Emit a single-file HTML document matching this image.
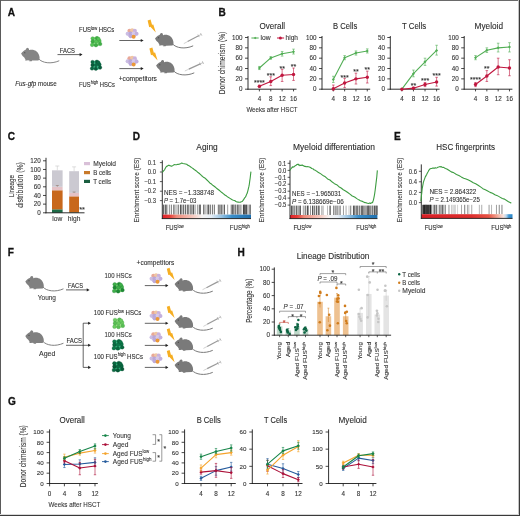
<!DOCTYPE html>
<html><head><meta charset="utf-8"><style>
html,body{margin:0;padding:0;background:#fff;width:520px;height:516px;overflow:hidden}
svg{display:block;will-change:transform}
text{font-family:"Liberation Sans",sans-serif}
</style></head><body>
<svg width="520" height="516" viewBox="0 0 520 516">
<rect x="0" y="0" width="520" height="516" fill="#fff"/>
<text transform="translate(7.80 16.20) scale(0.900 1)" font-size="11.2" fill="#111" font-weight="bold" stroke="#111" stroke-width="0.3">A</text>
<g transform="translate(21.10,53.50) scale(1.000)">
<path d="M0,0 C0.9,-1.1 1.8,-2.2 2.75,-2.75 C3.5,-3.2 4.3,-3.6 4.8,-3.9 C5.0,-5.0 5.9,-5.8 6.75,-5.6 C7.6,-5.4 8.1,-4.6 7.9,-3.5 L8.3,-3.4 C10.5,-4.2 13.2,-3.8 15.2,-2.3 C17.2,-0.8 18.5,2.0 18.5,4.3 C18.5,5.8 18.0,6.6 17.2,6.9 L11.0,7.1 L10.6,7.7 L8.0,7.7 L8.6,6.9 L6.6,6.7 L6.0,6.9 L4.0,6.9 L4.4,5.9 C3.9,5.2 3.5,4.6 3.2,4.0 C2.2,3.3 0.8,2.0 0,0 Z" fill="#858585"/>
<path d="M17.6,5.4 C21,9.6 30,10.8 37.8,7.4" fill="none" stroke="#858585" stroke-width="1.0" stroke-linecap="round"/>
<circle cx="3.7" cy="-0.8" r="0.5" fill="#333"/>
</g>
<text transform="translate(59.80 53.20) scale(0.808 1)" font-size="7.2" fill="#2b2b2b" stroke="#2b2b2b" stroke-width="0.1">FACS</text>
<line x1="57.50" y1="54.60" x2="80.60" y2="54.60" stroke="#222" stroke-width="0.7"/>
<path d="M82.50,54.60 L79.64,53.06 L79.64,56.14 Z" fill="#222"/>
<text transform="translate(15.20 86.40) scale(0.866 1)" font-size="7.2" fill="#2b2b2b" stroke="#2b2b2b" stroke-width="0.1"><tspan font-style="italic">Fus-gfp</tspan> mouse</text>
<text transform="translate(79.00 32.40) scale(0.832 1)" font-size="7.2" fill="#2b2b2b" stroke="#2b2b2b" stroke-width="0.1">FUS<tspan font-size="4.90" dy="-2.74">low</tspan><tspan dy="2.74"> HSCs</tspan></text>
<text transform="translate(79.00 86.60) scale(0.810 1)" font-size="7.2" fill="#2b2b2b" stroke="#2b2b2b" stroke-width="0.1">FUS<tspan font-size="4.90" dy="-2.74">high</tspan><tspan dy="2.74"> HSCs</tspan></text>
<circle cx="96.30" cy="41.70" r="4.83" fill="#8ee08a"/>
<circle cx="92.63" cy="38.42" r="1.79" fill="#55c455" stroke="#2f8f38" stroke-width="0.3"/>
<circle cx="96.98" cy="38.13" r="1.79" fill="#3fae45" stroke="#2f8f38" stroke-width="0.3"/>
<circle cx="99.49" cy="40.93" r="1.79" fill="#55c455" stroke="#2f8f38" stroke-width="0.3"/>
<circle cx="92.63" cy="41.51" r="1.79" fill="#3fae45" stroke="#2f8f38" stroke-width="0.3"/>
<circle cx="96.11" cy="41.51" r="1.79" fill="#55c455" stroke="#2f8f38" stroke-width="0.3"/>
<circle cx="100.17" cy="44.02" r="1.79" fill="#3fae45" stroke="#2f8f38" stroke-width="0.3"/>
<circle cx="92.14" cy="44.89" r="1.79" fill="#55c455" stroke="#2f8f38" stroke-width="0.3"/>
<circle cx="95.91" cy="45.18" r="1.79" fill="#3fae45" stroke="#2f8f38" stroke-width="0.3"/>
<circle cx="98.43" cy="38.90" r="1.79" fill="#55c455" stroke="#2f8f38" stroke-width="0.3"/>
<circle cx="96.20" cy="65.30" r="4.83" fill="#45cf98"/>
<circle cx="92.53" cy="62.02" r="1.79" fill="#0b6a45" stroke="#064a2e" stroke-width="0.3"/>
<circle cx="96.88" cy="61.73" r="1.79" fill="#0a5c3c" stroke="#064a2e" stroke-width="0.3"/>
<circle cx="99.39" cy="64.53" r="1.79" fill="#0b6a45" stroke="#064a2e" stroke-width="0.3"/>
<circle cx="92.53" cy="65.11" r="1.79" fill="#0a5c3c" stroke="#064a2e" stroke-width="0.3"/>
<circle cx="96.01" cy="65.11" r="1.79" fill="#0b6a45" stroke="#064a2e" stroke-width="0.3"/>
<circle cx="100.07" cy="67.62" r="1.79" fill="#0a5c3c" stroke="#064a2e" stroke-width="0.3"/>
<circle cx="92.04" cy="68.49" r="1.79" fill="#0b6a45" stroke="#064a2e" stroke-width="0.3"/>
<circle cx="95.81" cy="68.78" r="1.79" fill="#0a5c3c" stroke="#064a2e" stroke-width="0.3"/>
<circle cx="98.33" cy="62.50" r="1.79" fill="#0b6a45" stroke="#064a2e" stroke-width="0.3"/>
<g transform="translate(132.10,33.40) scale(0.900)">
<ellipse cx="0" cy="0.3" rx="5.6" ry="4.4" fill="#c8b8e0"/>
<circle cx="-2.90" cy="-3.00" r="2.30" fill="#e8a898"/>
<circle cx="0.10" cy="-3.40" r="2.30" fill="#f0c6a2"/>
<circle cx="3.00" cy="-2.90" r="2.30" fill="#c9b2dd"/>
<circle cx="-5.00" cy="0.30" r="2.20" fill="#cbbde3"/>
<circle cx="-1.60" cy="0.40" r="2.40" fill="#b9a7d8"/>
<circle cx="1.90" cy="0.20" r="2.40" fill="#d6c8e8"/>
<circle cx="5.00" cy="0.50" r="2.20" fill="#c2b0de"/>
<circle cx="-1.60" cy="3.30" r="2.20" fill="#bcaada"/>
<circle cx="1.70" cy="3.80" r="2.20" fill="#ea9838"/>
</g>
<line x1="119.30" y1="40.50" x2="141.70" y2="40.50" stroke="#222" stroke-width="0.7"/>
<path d="M143.60,40.50 L140.74,38.96 L140.74,42.04 Z" fill="#222"/>
<g transform="translate(132.10,61.00) scale(0.900)">
<ellipse cx="0" cy="0.3" rx="5.6" ry="4.4" fill="#c8b8e0"/>
<circle cx="-2.90" cy="-3.00" r="2.30" fill="#e8a898"/>
<circle cx="0.10" cy="-3.40" r="2.30" fill="#f0c6a2"/>
<circle cx="3.00" cy="-2.90" r="2.30" fill="#c9b2dd"/>
<circle cx="-5.00" cy="0.30" r="2.20" fill="#cbbde3"/>
<circle cx="-1.60" cy="0.40" r="2.40" fill="#b9a7d8"/>
<circle cx="1.90" cy="0.20" r="2.40" fill="#d6c8e8"/>
<circle cx="5.00" cy="0.50" r="2.20" fill="#c2b0de"/>
<circle cx="-1.60" cy="3.30" r="2.20" fill="#bcaada"/>
<circle cx="1.70" cy="3.80" r="2.20" fill="#ea9838"/>
</g>
<line x1="119.30" y1="68.60" x2="141.70" y2="68.60" stroke="#222" stroke-width="0.7"/>
<path d="M143.60,68.60 L140.74,67.06 L140.74,70.14 Z" fill="#222"/>
<path transform="translate(147.20,19.60) scale(1.050)" d="M0.4,0.9 L3.2,0 L4.6,4.9 L5.8,4.6 L8.2,12.2 L3.0,6.9 L1.9,7.2 Z" fill="#f6ae22"/>
<path transform="translate(149.00,47.60) scale(1.050)" d="M0.4,0.9 L3.2,0 L4.6,4.9 L5.8,4.6 L8.2,12.2 L3.0,6.9 L1.9,7.2 Z" fill="#f6ae22"/>
<g transform="translate(155.00,38.60) scale(1.000)">
<path d="M0,0 C0.9,-1.1 1.8,-2.2 2.75,-2.75 C3.5,-3.2 4.3,-3.6 4.8,-3.9 C5.0,-5.0 5.9,-5.8 6.75,-5.6 C7.6,-5.4 8.1,-4.6 7.9,-3.5 L8.3,-3.4 C10.5,-4.2 13.2,-3.8 15.2,-2.3 C17.2,-0.8 18.5,2.0 18.5,4.3 C18.5,5.8 18.0,6.6 17.2,6.9 L11.0,7.1 L10.6,7.7 L8.0,7.7 L8.6,6.9 L6.6,6.7 L6.0,6.9 L4.0,6.9 L4.4,5.9 C3.9,5.2 3.5,4.6 3.2,4.0 C2.2,3.3 0.8,2.0 0,0 Z" fill="#7a7a7a"/>
<path d="M17.6,5.4 C21,9.6 30,10.8 37.8,7.4" fill="none" stroke="#7a7a7a" stroke-width="1.0" stroke-linecap="round"/>
<circle cx="3.7" cy="-0.8" r="0.5" fill="#333"/>
</g>
<g transform="translate(156.10,65.60) scale(1.000)">
<path d="M0,0 C0.9,-1.1 1.8,-2.2 2.75,-2.75 C3.5,-3.2 4.3,-3.6 4.8,-3.9 C5.0,-5.0 5.9,-5.8 6.75,-5.6 C7.6,-5.4 8.1,-4.6 7.9,-3.5 L8.3,-3.4 C10.5,-4.2 13.2,-3.8 15.2,-2.3 C17.2,-0.8 18.5,2.0 18.5,4.3 C18.5,5.8 18.0,6.6 17.2,6.9 L11.0,7.1 L10.6,7.7 L8.0,7.7 L8.6,6.9 L6.6,6.7 L6.0,6.9 L4.0,6.9 L4.4,5.9 C3.9,5.2 3.5,4.6 3.2,4.0 C2.2,3.3 0.8,2.0 0,0 Z" fill="#7a7a7a"/>
<path d="M17.6,5.4 C21,9.6 30,10.8 37.8,7.4" fill="none" stroke="#7a7a7a" stroke-width="1.0" stroke-linecap="round"/>
<circle cx="3.7" cy="-0.8" r="0.5" fill="#333"/>
</g>
<line x1="183.80" y1="43.60" x2="187.63" y2="41.58" stroke="#9a9a9a" stroke-width="0.45"/>
<line x1="187.63" y1="41.58" x2="198.59" y2="35.78" stroke="#9a9a9a" stroke-width="1.2"/>
<line x1="198.59" y1="35.78" x2="201.20" y2="34.40" stroke="#9a9a9a" stroke-width="0.6"/>
<line x1="201.90" y1="35.73" x2="200.50" y2="33.07" stroke="#9a9a9a" stroke-width="0.6"/>
<line x1="199.29" y1="37.11" x2="197.89" y2="34.45" stroke="#9a9a9a" stroke-width="0.6"/>
<line x1="184.80" y1="71.00" x2="188.80" y2="69.15" stroke="#9a9a9a" stroke-width="0.45"/>
<line x1="188.80" y1="69.15" x2="200.27" y2="63.86" stroke="#9a9a9a" stroke-width="1.2"/>
<line x1="200.27" y1="63.86" x2="203.00" y2="62.60" stroke="#9a9a9a" stroke-width="0.6"/>
<line x1="203.63" y1="63.96" x2="202.37" y2="61.24" stroke="#9a9a9a" stroke-width="0.6"/>
<line x1="200.90" y1="65.22" x2="199.64" y2="62.50" stroke="#9a9a9a" stroke-width="0.6"/>
<text transform="translate(118.70 81.20) scale(0.925 1)" font-size="7.2" fill="#2b2b2b" stroke="#2b2b2b" stroke-width="0.1">+competitors</text>
<text transform="translate(218.60 16.20) scale(0.900 1)" font-size="11.2" fill="#111" font-weight="bold" stroke="#111" stroke-width="0.3">B</text>
<text transform="translate(225.40 63.00) rotate(-90) scale(0.794 1)" font-size="8.4" fill="#333" text-anchor="middle" stroke="#333" stroke-width="0.1">Donor chimerism (%)</text>
<text transform="translate(272.30 29.00) scale(0.958 1)" font-size="8.4" fill="#2a2a2a" text-anchor="middle" stroke="#2a2a2a" stroke-width="0.1">Overall</text>
<line x1="248.00" y1="36.00" x2="248.00" y2="89.65" stroke="#1a1a1a" stroke-width="0.9"/>
<line x1="245.00" y1="89.20" x2="248.00" y2="89.20" stroke="#1a1a1a" stroke-width="0.8"/>
<text transform="translate(242.60 91.40)" font-size="6.3" fill="#333" text-anchor="end" stroke="#333" stroke-width="0.1">0</text>
<line x1="245.00" y1="78.86" x2="248.00" y2="78.86" stroke="#1a1a1a" stroke-width="0.8"/>
<text transform="translate(242.60 81.06)" font-size="6.3" fill="#333" text-anchor="end" stroke="#333" stroke-width="0.1">20</text>
<line x1="245.00" y1="68.52" x2="248.00" y2="68.52" stroke="#1a1a1a" stroke-width="0.8"/>
<text transform="translate(242.60 70.72)" font-size="6.3" fill="#333" text-anchor="end" stroke="#333" stroke-width="0.1">40</text>
<line x1="245.00" y1="58.18" x2="248.00" y2="58.18" stroke="#1a1a1a" stroke-width="0.8"/>
<text transform="translate(242.60 60.38)" font-size="6.3" fill="#333" text-anchor="end" stroke="#333" stroke-width="0.1">60</text>
<line x1="245.00" y1="47.84" x2="248.00" y2="47.84" stroke="#1a1a1a" stroke-width="0.8"/>
<text transform="translate(242.60 50.04)" font-size="6.3" fill="#333" text-anchor="end" stroke="#333" stroke-width="0.1">80</text>
<line x1="245.00" y1="37.50" x2="248.00" y2="37.50" stroke="#1a1a1a" stroke-width="0.8"/>
<text transform="translate(242.60 39.70)" font-size="6.3" fill="#333" text-anchor="end" stroke="#333" stroke-width="0.1">100</text>
<line x1="247.55" y1="89.20" x2="296.50" y2="89.20" stroke="#1a1a1a" stroke-width="0.9"/>
<line x1="259.38" y1="89.20" x2="259.38" y2="91.40" stroke="#1a1a1a" stroke-width="0.8"/>
<text transform="translate(259.38 100.60)" font-size="6.3" fill="#333" text-anchor="middle" stroke="#333" stroke-width="0.1">4</text>
<line x1="270.76" y1="89.20" x2="270.76" y2="91.40" stroke="#1a1a1a" stroke-width="0.8"/>
<text transform="translate(270.76 100.60)" font-size="6.3" fill="#333" text-anchor="middle" stroke="#333" stroke-width="0.1">8</text>
<line x1="282.14" y1="89.20" x2="282.14" y2="91.40" stroke="#1a1a1a" stroke-width="0.8"/>
<text transform="translate(282.14 100.60)" font-size="6.3" fill="#333" text-anchor="middle" stroke="#333" stroke-width="0.1">12</text>
<line x1="293.52" y1="89.20" x2="293.52" y2="91.40" stroke="#1a1a1a" stroke-width="0.8"/>
<text transform="translate(293.52 100.60)" font-size="6.3" fill="#333" text-anchor="middle" stroke="#333" stroke-width="0.1">16</text>
<polyline points="259.38,68.00 270.76,57.92 282.14,53.79 293.52,51.72" fill="none" stroke="#52ae55" stroke-width="1.1" stroke-linejoin="round"/>
<line x1="259.38" y1="69.55" x2="259.38" y2="66.45" stroke="#52ae55" stroke-width="0.6"/>
<line x1="258.08" y1="69.55" x2="260.68" y2="69.55" stroke="#52ae55" stroke-width="0.6"/>
<line x1="258.08" y1="66.45" x2="260.68" y2="66.45" stroke="#52ae55" stroke-width="0.6"/>
<line x1="270.76" y1="59.21" x2="270.76" y2="56.63" stroke="#52ae55" stroke-width="0.6"/>
<line x1="269.46" y1="59.21" x2="272.06" y2="59.21" stroke="#52ae55" stroke-width="0.6"/>
<line x1="269.46" y1="56.63" x2="272.06" y2="56.63" stroke="#52ae55" stroke-width="0.6"/>
<line x1="282.14" y1="56.11" x2="282.14" y2="51.46" stroke="#52ae55" stroke-width="0.6"/>
<line x1="280.84" y1="56.11" x2="283.44" y2="56.11" stroke="#52ae55" stroke-width="0.6"/>
<line x1="280.84" y1="51.46" x2="283.44" y2="51.46" stroke="#52ae55" stroke-width="0.6"/>
<line x1="293.52" y1="54.04" x2="293.52" y2="49.13" stroke="#52ae55" stroke-width="0.6"/>
<line x1="292.22" y1="54.04" x2="294.82" y2="54.04" stroke="#52ae55" stroke-width="0.6"/>
<line x1="292.22" y1="49.13" x2="294.82" y2="49.13" stroke="#52ae55" stroke-width="0.6"/>
<path d="M257.88,68.00 L259.38,66.50 L260.88,68.00 L259.38,69.50 Z" fill="#52ae55"/>
<path d="M269.26,57.92 L270.76,56.42 L272.26,57.92 L270.76,59.42 Z" fill="#52ae55"/>
<path d="M280.64,53.79 L282.14,52.29 L283.64,53.79 L282.14,55.29 Z" fill="#52ae55"/>
<path d="M292.02,51.72 L293.52,50.22 L295.02,51.72 L293.52,53.22 Z" fill="#52ae55"/>
<polyline points="259.38,86.36 270.76,81.45 282.14,75.24 293.52,74.47" fill="none" stroke="#c0173f" stroke-width="1.1" stroke-linejoin="round"/>
<line x1="259.38" y1="87.65" x2="259.38" y2="85.06" stroke="#c0173f" stroke-width="0.6"/>
<line x1="258.08" y1="87.65" x2="260.68" y2="87.65" stroke="#c0173f" stroke-width="0.6"/>
<line x1="258.08" y1="85.06" x2="260.68" y2="85.06" stroke="#c0173f" stroke-width="0.6"/>
<line x1="270.76" y1="85.58" x2="270.76" y2="76.79" stroke="#c0173f" stroke-width="0.6"/>
<line x1="269.46" y1="85.58" x2="272.06" y2="85.58" stroke="#c0173f" stroke-width="0.6"/>
<line x1="269.46" y1="76.79" x2="272.06" y2="76.79" stroke="#c0173f" stroke-width="0.6"/>
<line x1="282.14" y1="81.45" x2="282.14" y2="69.30" stroke="#c0173f" stroke-width="0.6"/>
<line x1="280.84" y1="81.45" x2="283.44" y2="81.45" stroke="#c0173f" stroke-width="0.6"/>
<line x1="280.84" y1="69.30" x2="283.44" y2="69.30" stroke="#c0173f" stroke-width="0.6"/>
<line x1="293.52" y1="80.41" x2="293.52" y2="68.00" stroke="#c0173f" stroke-width="0.6"/>
<line x1="292.22" y1="80.41" x2="294.82" y2="80.41" stroke="#c0173f" stroke-width="0.6"/>
<line x1="292.22" y1="68.00" x2="294.82" y2="68.00" stroke="#c0173f" stroke-width="0.6"/>
<circle cx="259.38" cy="86.36" r="1.70" fill="#c0173f"/>
<circle cx="270.76" cy="81.45" r="1.70" fill="#c0173f"/>
<circle cx="282.14" cy="75.24" r="1.70" fill="#c0173f"/>
<circle cx="293.52" cy="74.47" r="1.70" fill="#c0173f"/>
<text transform="translate(259.38 85.49) scale(0.950 1)" font-size="7.4" fill="#2a2a2a" text-anchor="middle" stroke="#2a2a2a" stroke-width="0.1">****</text>
<text transform="translate(270.76 78.09) scale(0.950 1)" font-size="7.4" fill="#2a2a2a" text-anchor="middle" stroke="#2a2a2a" stroke-width="0.1">***</text>
<text transform="translate(282.14 70.60) scale(0.950 1)" font-size="7.4" fill="#2a2a2a" text-anchor="middle" stroke="#2a2a2a" stroke-width="0.1">**</text>
<text transform="translate(293.52 69.20) scale(0.950 1)" font-size="7.4" fill="#2a2a2a" text-anchor="middle" stroke="#2a2a2a" stroke-width="0.1">**</text>
<text transform="translate(345.10 29.00) scale(0.910 1)" font-size="8.4" fill="#2a2a2a" text-anchor="middle" stroke="#2a2a2a" stroke-width="0.1">B Cells</text>
<line x1="322.00" y1="36.00" x2="322.00" y2="89.65" stroke="#1a1a1a" stroke-width="0.9"/>
<line x1="319.00" y1="89.20" x2="322.00" y2="89.20" stroke="#1a1a1a" stroke-width="0.8"/>
<text transform="translate(316.60 91.40)" font-size="6.3" fill="#333" text-anchor="end" stroke="#333" stroke-width="0.1">0</text>
<line x1="319.00" y1="78.86" x2="322.00" y2="78.86" stroke="#1a1a1a" stroke-width="0.8"/>
<text transform="translate(316.60 81.06)" font-size="6.3" fill="#333" text-anchor="end" stroke="#333" stroke-width="0.1">20</text>
<line x1="319.00" y1="68.52" x2="322.00" y2="68.52" stroke="#1a1a1a" stroke-width="0.8"/>
<text transform="translate(316.60 70.72)" font-size="6.3" fill="#333" text-anchor="end" stroke="#333" stroke-width="0.1">40</text>
<line x1="319.00" y1="58.18" x2="322.00" y2="58.18" stroke="#1a1a1a" stroke-width="0.8"/>
<text transform="translate(316.60 60.38)" font-size="6.3" fill="#333" text-anchor="end" stroke="#333" stroke-width="0.1">60</text>
<line x1="319.00" y1="47.84" x2="322.00" y2="47.84" stroke="#1a1a1a" stroke-width="0.8"/>
<text transform="translate(316.60 50.04)" font-size="6.3" fill="#333" text-anchor="end" stroke="#333" stroke-width="0.1">80</text>
<line x1="319.00" y1="37.50" x2="322.00" y2="37.50" stroke="#1a1a1a" stroke-width="0.8"/>
<text transform="translate(316.60 39.70)" font-size="6.3" fill="#333" text-anchor="end" stroke="#333" stroke-width="0.1">100</text>
<line x1="321.55" y1="89.20" x2="370.20" y2="89.20" stroke="#1a1a1a" stroke-width="0.9"/>
<line x1="333.32" y1="89.20" x2="333.32" y2="91.40" stroke="#1a1a1a" stroke-width="0.8"/>
<text transform="translate(333.32 100.60)" font-size="6.3" fill="#333" text-anchor="middle" stroke="#333" stroke-width="0.1">4</text>
<line x1="344.64" y1="89.20" x2="344.64" y2="91.40" stroke="#1a1a1a" stroke-width="0.8"/>
<text transform="translate(344.64 100.60)" font-size="6.3" fill="#333" text-anchor="middle" stroke="#333" stroke-width="0.1">8</text>
<line x1="355.96" y1="89.20" x2="355.96" y2="91.40" stroke="#1a1a1a" stroke-width="0.8"/>
<text transform="translate(355.96 100.60)" font-size="6.3" fill="#333" text-anchor="middle" stroke="#333" stroke-width="0.1">12</text>
<line x1="367.28" y1="89.20" x2="367.28" y2="91.40" stroke="#1a1a1a" stroke-width="0.8"/>
<text transform="translate(367.28 100.60)" font-size="6.3" fill="#333" text-anchor="middle" stroke="#333" stroke-width="0.1">16</text>
<polyline points="333.32,79.38 344.64,57.66 355.96,53.01 367.28,50.94" fill="none" stroke="#52ae55" stroke-width="1.1" stroke-linejoin="round"/>
<line x1="333.32" y1="82.48" x2="333.32" y2="76.28" stroke="#52ae55" stroke-width="0.6"/>
<line x1="332.02" y1="82.48" x2="334.62" y2="82.48" stroke="#52ae55" stroke-width="0.6"/>
<line x1="332.02" y1="76.28" x2="334.62" y2="76.28" stroke="#52ae55" stroke-width="0.6"/>
<line x1="344.64" y1="59.73" x2="344.64" y2="55.59" stroke="#52ae55" stroke-width="0.6"/>
<line x1="343.34" y1="59.73" x2="345.94" y2="59.73" stroke="#52ae55" stroke-width="0.6"/>
<line x1="343.34" y1="55.59" x2="345.94" y2="55.59" stroke="#52ae55" stroke-width="0.6"/>
<line x1="355.96" y1="55.08" x2="355.96" y2="50.94" stroke="#52ae55" stroke-width="0.6"/>
<line x1="354.66" y1="55.08" x2="357.26" y2="55.08" stroke="#52ae55" stroke-width="0.6"/>
<line x1="354.66" y1="50.94" x2="357.26" y2="50.94" stroke="#52ae55" stroke-width="0.6"/>
<line x1="367.28" y1="53.01" x2="367.28" y2="48.87" stroke="#52ae55" stroke-width="0.6"/>
<line x1="365.98" y1="53.01" x2="368.58" y2="53.01" stroke="#52ae55" stroke-width="0.6"/>
<line x1="365.98" y1="48.87" x2="368.58" y2="48.87" stroke="#52ae55" stroke-width="0.6"/>
<path d="M331.82,79.38 L333.32,77.88 L334.82,79.38 L333.32,80.88 Z" fill="#52ae55"/>
<path d="M343.14,57.66 L344.64,56.16 L346.14,57.66 L344.64,59.16 Z" fill="#52ae55"/>
<path d="M354.46,53.01 L355.96,51.51 L357.46,53.01 L355.96,54.51 Z" fill="#52ae55"/>
<path d="M365.78,50.94 L367.28,49.44 L368.78,50.94 L367.28,52.44 Z" fill="#52ae55"/>
<polyline points="333.32,88.68 344.64,83.00 355.96,78.86 367.28,77.31" fill="none" stroke="#c0173f" stroke-width="1.1" stroke-linejoin="round"/>
<line x1="333.32" y1="90.23" x2="333.32" y2="85.06" stroke="#c0173f" stroke-width="0.6"/>
<line x1="332.02" y1="90.23" x2="334.62" y2="90.23" stroke="#c0173f" stroke-width="0.6"/>
<line x1="332.02" y1="85.06" x2="334.62" y2="85.06" stroke="#c0173f" stroke-width="0.6"/>
<line x1="344.64" y1="87.65" x2="344.64" y2="78.34" stroke="#c0173f" stroke-width="0.6"/>
<line x1="343.34" y1="87.65" x2="345.94" y2="87.65" stroke="#c0173f" stroke-width="0.6"/>
<line x1="343.34" y1="78.34" x2="345.94" y2="78.34" stroke="#c0173f" stroke-width="0.6"/>
<line x1="355.96" y1="84.03" x2="355.96" y2="73.17" stroke="#c0173f" stroke-width="0.6"/>
<line x1="354.66" y1="84.03" x2="357.26" y2="84.03" stroke="#c0173f" stroke-width="0.6"/>
<line x1="354.66" y1="73.17" x2="357.26" y2="73.17" stroke="#c0173f" stroke-width="0.6"/>
<line x1="367.28" y1="83.00" x2="367.28" y2="71.11" stroke="#c0173f" stroke-width="0.6"/>
<line x1="365.98" y1="83.00" x2="368.58" y2="83.00" stroke="#c0173f" stroke-width="0.6"/>
<line x1="365.98" y1="71.11" x2="368.58" y2="71.11" stroke="#c0173f" stroke-width="0.6"/>
<circle cx="333.32" cy="88.68" r="1.70" fill="#c0173f"/>
<circle cx="344.64" cy="83.00" r="1.70" fill="#c0173f"/>
<circle cx="355.96" cy="78.86" r="1.70" fill="#c0173f"/>
<circle cx="367.28" cy="77.31" r="1.70" fill="#c0173f"/>
<text transform="translate(344.64 79.90) scale(0.950 1)" font-size="7.4" fill="#2a2a2a" text-anchor="middle" stroke="#2a2a2a" stroke-width="0.1">***</text>
<text transform="translate(355.96 74.01) scale(0.950 1)" font-size="7.4" fill="#2a2a2a" text-anchor="middle" stroke="#2a2a2a" stroke-width="0.1">**</text>
<text transform="translate(367.28 71.99) scale(0.950 1)" font-size="7.4" fill="#2a2a2a" text-anchor="middle" stroke="#2a2a2a" stroke-width="0.1">**</text>
<text transform="translate(414.10 29.00) scale(0.931 1)" font-size="8.4" fill="#2a2a2a" text-anchor="middle" stroke="#2a2a2a" stroke-width="0.1">T Cells</text>
<line x1="390.30" y1="36.00" x2="390.30" y2="89.65" stroke="#1a1a1a" stroke-width="0.9"/>
<line x1="387.30" y1="89.20" x2="390.30" y2="89.20" stroke="#1a1a1a" stroke-width="0.8"/>
<text transform="translate(384.90 91.40)" font-size="6.3" fill="#333" text-anchor="end" stroke="#333" stroke-width="0.1">0</text>
<line x1="387.30" y1="78.86" x2="390.30" y2="78.86" stroke="#1a1a1a" stroke-width="0.8"/>
<text transform="translate(384.90 81.06)" font-size="6.3" fill="#333" text-anchor="end" stroke="#333" stroke-width="0.1">10</text>
<line x1="387.30" y1="68.52" x2="390.30" y2="68.52" stroke="#1a1a1a" stroke-width="0.8"/>
<text transform="translate(384.90 70.72)" font-size="6.3" fill="#333" text-anchor="end" stroke="#333" stroke-width="0.1">20</text>
<line x1="387.30" y1="58.18" x2="390.30" y2="58.18" stroke="#1a1a1a" stroke-width="0.8"/>
<text transform="translate(384.90 60.38)" font-size="6.3" fill="#333" text-anchor="end" stroke="#333" stroke-width="0.1">30</text>
<line x1="387.30" y1="47.84" x2="390.30" y2="47.84" stroke="#1a1a1a" stroke-width="0.8"/>
<text transform="translate(384.90 50.04)" font-size="6.3" fill="#333" text-anchor="end" stroke="#333" stroke-width="0.1">40</text>
<line x1="387.30" y1="37.50" x2="390.30" y2="37.50" stroke="#1a1a1a" stroke-width="0.8"/>
<text transform="translate(384.90 39.70)" font-size="6.3" fill="#333" text-anchor="end" stroke="#333" stroke-width="0.1">50</text>
<line x1="389.85" y1="89.20" x2="439.60" y2="89.20" stroke="#1a1a1a" stroke-width="0.9"/>
<line x1="401.88" y1="89.20" x2="401.88" y2="91.40" stroke="#1a1a1a" stroke-width="0.8"/>
<text transform="translate(401.88 100.60)" font-size="6.3" fill="#333" text-anchor="middle" stroke="#333" stroke-width="0.1">4</text>
<line x1="413.45" y1="89.20" x2="413.45" y2="91.40" stroke="#1a1a1a" stroke-width="0.8"/>
<text transform="translate(413.45 100.60)" font-size="6.3" fill="#333" text-anchor="middle" stroke="#333" stroke-width="0.1">8</text>
<line x1="425.03" y1="89.20" x2="425.03" y2="91.40" stroke="#1a1a1a" stroke-width="0.8"/>
<text transform="translate(425.03 100.60)" font-size="6.3" fill="#333" text-anchor="middle" stroke="#333" stroke-width="0.1">12</text>
<line x1="436.60" y1="89.20" x2="436.60" y2="91.40" stroke="#1a1a1a" stroke-width="0.8"/>
<text transform="translate(436.60 100.60)" font-size="6.3" fill="#333" text-anchor="middle" stroke="#333" stroke-width="0.1">16</text>
<polyline points="401.88,89.20 413.45,73.69 425.03,61.80 436.60,50.43" fill="none" stroke="#52ae55" stroke-width="1.1" stroke-linejoin="round"/>
<line x1="413.45" y1="76.79" x2="413.45" y2="70.07" stroke="#52ae55" stroke-width="0.6"/>
<line x1="412.15" y1="76.79" x2="414.75" y2="76.79" stroke="#52ae55" stroke-width="0.6"/>
<line x1="412.15" y1="70.07" x2="414.75" y2="70.07" stroke="#52ae55" stroke-width="0.6"/>
<line x1="425.03" y1="65.42" x2="425.03" y2="58.18" stroke="#52ae55" stroke-width="0.6"/>
<line x1="423.73" y1="65.42" x2="426.33" y2="65.42" stroke="#52ae55" stroke-width="0.6"/>
<line x1="423.73" y1="58.18" x2="426.33" y2="58.18" stroke="#52ae55" stroke-width="0.6"/>
<line x1="436.60" y1="55.08" x2="436.60" y2="45.26" stroke="#52ae55" stroke-width="0.6"/>
<line x1="435.30" y1="55.08" x2="437.90" y2="55.08" stroke="#52ae55" stroke-width="0.6"/>
<line x1="435.30" y1="45.26" x2="437.90" y2="45.26" stroke="#52ae55" stroke-width="0.6"/>
<path d="M400.38,89.20 L401.88,87.70 L403.38,89.20 L401.88,90.70 Z" fill="#52ae55"/>
<path d="M411.95,73.69 L413.45,72.19 L414.95,73.69 L413.45,75.19 Z" fill="#52ae55"/>
<path d="M423.53,61.80 L425.03,60.30 L426.53,61.80 L425.03,63.30 Z" fill="#52ae55"/>
<path d="M435.10,50.43 L436.60,48.93 L438.10,50.43 L436.60,51.93 Z" fill="#52ae55"/>
<polyline points="401.88,89.20 413.45,88.17 425.03,84.55 436.60,81.96" fill="none" stroke="#c0173f" stroke-width="1.1" stroke-linejoin="round"/>
<line x1="413.45" y1="89.20" x2="413.45" y2="87.13" stroke="#c0173f" stroke-width="0.6"/>
<line x1="412.15" y1="89.20" x2="414.75" y2="89.20" stroke="#c0173f" stroke-width="0.6"/>
<line x1="412.15" y1="87.13" x2="414.75" y2="87.13" stroke="#c0173f" stroke-width="0.6"/>
<line x1="425.03" y1="86.62" x2="425.03" y2="82.48" stroke="#c0173f" stroke-width="0.6"/>
<line x1="423.73" y1="86.62" x2="426.33" y2="86.62" stroke="#c0173f" stroke-width="0.6"/>
<line x1="423.73" y1="82.48" x2="426.33" y2="82.48" stroke="#c0173f" stroke-width="0.6"/>
<line x1="436.60" y1="86.10" x2="436.60" y2="77.31" stroke="#c0173f" stroke-width="0.6"/>
<line x1="435.30" y1="86.10" x2="437.90" y2="86.10" stroke="#c0173f" stroke-width="0.6"/>
<line x1="435.30" y1="77.31" x2="437.90" y2="77.31" stroke="#c0173f" stroke-width="0.6"/>
<circle cx="401.88" cy="89.20" r="1.70" fill="#c0173f"/>
<circle cx="413.45" cy="88.17" r="1.70" fill="#c0173f"/>
<circle cx="425.03" cy="84.55" r="1.70" fill="#c0173f"/>
<circle cx="436.60" cy="81.96" r="1.70" fill="#c0173f"/>
<text transform="translate(413.45 88.12) scale(0.950 1)" font-size="7.4" fill="#2a2a2a" text-anchor="middle" stroke="#2a2a2a" stroke-width="0.1">**</text>
<text transform="translate(425.03 83.26) scale(0.950 1)" font-size="7.4" fill="#2a2a2a" text-anchor="middle" stroke="#2a2a2a" stroke-width="0.1">***</text>
<text transform="translate(436.60 77.99) scale(0.950 1)" font-size="7.4" fill="#2a2a2a" text-anchor="middle" stroke="#2a2a2a" stroke-width="0.1">***</text>
<text transform="translate(488.80 29.00) scale(0.985 1)" font-size="8.4" fill="#2a2a2a" text-anchor="middle" stroke="#2a2a2a" stroke-width="0.1">Myeloid</text>
<line x1="464.20" y1="36.00" x2="464.20" y2="89.65" stroke="#1a1a1a" stroke-width="0.9"/>
<line x1="461.20" y1="89.20" x2="464.20" y2="89.20" stroke="#1a1a1a" stroke-width="0.8"/>
<text transform="translate(458.80 91.40)" font-size="6.3" fill="#333" text-anchor="end" stroke="#333" stroke-width="0.1">0</text>
<line x1="461.20" y1="78.86" x2="464.20" y2="78.86" stroke="#1a1a1a" stroke-width="0.8"/>
<text transform="translate(458.80 81.06)" font-size="6.3" fill="#333" text-anchor="end" stroke="#333" stroke-width="0.1">20</text>
<line x1="461.20" y1="68.52" x2="464.20" y2="68.52" stroke="#1a1a1a" stroke-width="0.8"/>
<text transform="translate(458.80 70.72)" font-size="6.3" fill="#333" text-anchor="end" stroke="#333" stroke-width="0.1">40</text>
<line x1="461.20" y1="58.18" x2="464.20" y2="58.18" stroke="#1a1a1a" stroke-width="0.8"/>
<text transform="translate(458.80 60.38)" font-size="6.3" fill="#333" text-anchor="end" stroke="#333" stroke-width="0.1">60</text>
<line x1="461.20" y1="47.84" x2="464.20" y2="47.84" stroke="#1a1a1a" stroke-width="0.8"/>
<text transform="translate(458.80 50.04)" font-size="6.3" fill="#333" text-anchor="end" stroke="#333" stroke-width="0.1">80</text>
<line x1="461.20" y1="37.50" x2="464.20" y2="37.50" stroke="#1a1a1a" stroke-width="0.8"/>
<text transform="translate(458.80 39.70)" font-size="6.3" fill="#333" text-anchor="end" stroke="#333" stroke-width="0.1">100</text>
<line x1="463.75" y1="89.20" x2="512.40" y2="89.20" stroke="#1a1a1a" stroke-width="0.9"/>
<line x1="475.52" y1="89.20" x2="475.52" y2="91.40" stroke="#1a1a1a" stroke-width="0.8"/>
<text transform="translate(475.52 100.60)" font-size="6.3" fill="#333" text-anchor="middle" stroke="#333" stroke-width="0.1">4</text>
<line x1="486.84" y1="89.20" x2="486.84" y2="91.40" stroke="#1a1a1a" stroke-width="0.8"/>
<text transform="translate(486.84 100.60)" font-size="6.3" fill="#333" text-anchor="middle" stroke="#333" stroke-width="0.1">8</text>
<line x1="498.16" y1="89.20" x2="498.16" y2="91.40" stroke="#1a1a1a" stroke-width="0.8"/>
<text transform="translate(498.16 100.60)" font-size="6.3" fill="#333" text-anchor="middle" stroke="#333" stroke-width="0.1">12</text>
<line x1="509.48" y1="89.20" x2="509.48" y2="91.40" stroke="#1a1a1a" stroke-width="0.8"/>
<text transform="translate(509.48 100.60)" font-size="6.3" fill="#333" text-anchor="middle" stroke="#333" stroke-width="0.1">16</text>
<polyline points="475.52,57.66 486.84,50.17 498.16,47.84 509.48,47.06" fill="none" stroke="#52ae55" stroke-width="1.1" stroke-linejoin="round"/>
<line x1="475.52" y1="59.73" x2="475.52" y2="55.59" stroke="#52ae55" stroke-width="0.6"/>
<line x1="474.22" y1="59.73" x2="476.82" y2="59.73" stroke="#52ae55" stroke-width="0.6"/>
<line x1="474.22" y1="55.59" x2="476.82" y2="55.59" stroke="#52ae55" stroke-width="0.6"/>
<line x1="486.84" y1="52.49" x2="486.84" y2="47.84" stroke="#52ae55" stroke-width="0.6"/>
<line x1="485.54" y1="52.49" x2="488.14" y2="52.49" stroke="#52ae55" stroke-width="0.6"/>
<line x1="485.54" y1="47.84" x2="488.14" y2="47.84" stroke="#52ae55" stroke-width="0.6"/>
<line x1="498.16" y1="51.98" x2="498.16" y2="43.19" stroke="#52ae55" stroke-width="0.6"/>
<line x1="496.86" y1="51.98" x2="499.46" y2="51.98" stroke="#52ae55" stroke-width="0.6"/>
<line x1="496.86" y1="43.19" x2="499.46" y2="43.19" stroke="#52ae55" stroke-width="0.6"/>
<line x1="509.48" y1="51.98" x2="509.48" y2="42.67" stroke="#52ae55" stroke-width="0.6"/>
<line x1="508.18" y1="51.98" x2="510.78" y2="51.98" stroke="#52ae55" stroke-width="0.6"/>
<line x1="508.18" y1="42.67" x2="510.78" y2="42.67" stroke="#52ae55" stroke-width="0.6"/>
<path d="M474.02,57.66 L475.52,56.16 L477.02,57.66 L475.52,59.16 Z" fill="#52ae55"/>
<path d="M485.34,50.17 L486.84,48.67 L488.34,50.17 L486.84,51.67 Z" fill="#52ae55"/>
<path d="M496.66,47.84 L498.16,46.34 L499.66,47.84 L498.16,49.34 Z" fill="#52ae55"/>
<path d="M507.98,47.06 L509.48,45.56 L510.98,47.06 L509.48,48.56 Z" fill="#52ae55"/>
<polyline points="475.52,84.55 486.84,76.02 498.16,66.97 509.48,68.00" fill="none" stroke="#c0173f" stroke-width="1.1" stroke-linejoin="round"/>
<line x1="475.52" y1="86.62" x2="475.52" y2="82.48" stroke="#c0173f" stroke-width="0.6"/>
<line x1="474.22" y1="86.62" x2="476.82" y2="86.62" stroke="#c0173f" stroke-width="0.6"/>
<line x1="474.22" y1="82.48" x2="476.82" y2="82.48" stroke="#c0173f" stroke-width="0.6"/>
<line x1="486.84" y1="81.45" x2="486.84" y2="70.59" stroke="#c0173f" stroke-width="0.6"/>
<line x1="485.54" y1="81.45" x2="488.14" y2="81.45" stroke="#c0173f" stroke-width="0.6"/>
<line x1="485.54" y1="70.59" x2="488.14" y2="70.59" stroke="#c0173f" stroke-width="0.6"/>
<line x1="498.16" y1="74.72" x2="498.16" y2="58.18" stroke="#c0173f" stroke-width="0.6"/>
<line x1="496.86" y1="74.72" x2="499.46" y2="74.72" stroke="#c0173f" stroke-width="0.6"/>
<line x1="496.86" y1="58.18" x2="499.46" y2="58.18" stroke="#c0173f" stroke-width="0.6"/>
<line x1="509.48" y1="75.76" x2="509.48" y2="59.73" stroke="#c0173f" stroke-width="0.6"/>
<line x1="508.18" y1="75.76" x2="510.78" y2="75.76" stroke="#c0173f" stroke-width="0.6"/>
<line x1="508.18" y1="59.73" x2="510.78" y2="59.73" stroke="#c0173f" stroke-width="0.6"/>
<circle cx="475.52" cy="84.55" r="1.70" fill="#c0173f"/>
<circle cx="486.84" cy="76.02" r="1.70" fill="#c0173f"/>
<circle cx="498.16" cy="66.97" r="1.70" fill="#c0173f"/>
<circle cx="509.48" cy="68.00" r="1.70" fill="#c0173f"/>
<text transform="translate(475.52 82.28) scale(0.950 1)" font-size="7.4" fill="#2a2a2a" text-anchor="middle" stroke="#2a2a2a" stroke-width="0.1">****</text>
<text transform="translate(486.84 71.27) scale(0.950 1)" font-size="7.4" fill="#2a2a2a" text-anchor="middle" stroke="#2a2a2a" stroke-width="0.1">**</text>
<line x1="251.40" y1="38.00" x2="258.70" y2="38.00" stroke="#52ae55" stroke-width="1.0"/>
<path d="M253.9,38 L255.2,36.7 L256.5,38 L255.2,39.3 Z" fill="#52ae55"/>
<text transform="translate(260.60 40.40) scale(0.962 1)" font-size="7.0" fill="#333" stroke="#333" stroke-width="0.1">low</text>
<line x1="277.00" y1="38.00" x2="284.10" y2="38.00" stroke="#c0173f" stroke-width="1.0"/>
<circle cx="280.4" cy="38" r="1.5" fill="#c0173f"/>
<text transform="translate(285.60 40.40) scale(0.937 1)" font-size="7.0" fill="#333" stroke="#333" stroke-width="0.1">high</text>
<text transform="translate(272.00 111.90) scale(0.773 1)" font-size="8.0" fill="#333" text-anchor="middle" stroke="#333" stroke-width="0.1">Weeks after HSCT</text>
<text transform="translate(7.80 139.80) scale(0.900 1)" font-size="11.2" fill="#111" font-weight="bold" stroke="#111" stroke-width="0.3">C</text>
<rect x="52.00" y="209.33" width="10.60" height="3.47" fill="#1d6b47"/>
<rect x="52.00" y="190.27" width="10.60" height="19.07" fill="#c8681c"/>
<rect x="52.00" y="186.80" width="10.60" height="3.47" fill="#e5c2c6"/>
<rect x="52.00" y="170.33" width="10.60" height="16.47" fill="#cbc9d1"/>
<rect x="69.20" y="212.37" width="9.80" height="0.43" fill="#1d6b47"/>
<rect x="69.20" y="196.33" width="9.80" height="16.03" fill="#c8681c"/>
<rect x="69.20" y="192.87" width="9.80" height="3.47" fill="#e5c2c6"/>
<rect x="69.20" y="171.20" width="9.80" height="21.67" fill="#cbc9d1"/>
<line x1="57.30" y1="170.33" x2="57.30" y2="166.00" stroke="#c8c8c8" stroke-width="0.6"/>
<line x1="55.30" y1="166.00" x2="59.30" y2="166.00" stroke="#c8c8c8" stroke-width="0.6"/>
<line x1="74.10" y1="171.20" x2="74.10" y2="166.87" stroke="#c8c8c8" stroke-width="0.6"/>
<line x1="72.10" y1="166.87" x2="76.10" y2="166.87" stroke="#c8c8c8" stroke-width="0.6"/>
<line x1="57.30" y1="186.80" x2="57.30" y2="185.50" stroke="#8a6a5a" stroke-width="0.5"/>
<line x1="55.80" y1="185.50" x2="58.80" y2="185.50" stroke="#8a6a5a" stroke-width="0.5"/>
<line x1="74.10" y1="192.87" x2="74.10" y2="192.00" stroke="#8a6a5a" stroke-width="0.5"/>
<line x1="72.60" y1="192.00" x2="75.60" y2="192.00" stroke="#8a6a5a" stroke-width="0.5"/>
<line x1="46.00" y1="157.80" x2="46.00" y2="213.25" stroke="#1a1a1a" stroke-width="0.9"/>
<line x1="43.00" y1="212.80" x2="46.00" y2="212.80" stroke="#1a1a1a" stroke-width="0.8"/>
<text transform="translate(40.80 215.00)" font-size="6.3" fill="#333" text-anchor="end" stroke="#333" stroke-width="0.1">0</text>
<line x1="43.00" y1="204.13" x2="46.00" y2="204.13" stroke="#1a1a1a" stroke-width="0.8"/>
<text transform="translate(40.80 206.33)" font-size="6.3" fill="#333" text-anchor="end" stroke="#333" stroke-width="0.1">20</text>
<line x1="43.00" y1="195.47" x2="46.00" y2="195.47" stroke="#1a1a1a" stroke-width="0.8"/>
<text transform="translate(40.80 197.67)" font-size="6.3" fill="#333" text-anchor="end" stroke="#333" stroke-width="0.1">40</text>
<line x1="43.00" y1="186.80" x2="46.00" y2="186.80" stroke="#1a1a1a" stroke-width="0.8"/>
<text transform="translate(40.80 189.00)" font-size="6.3" fill="#333" text-anchor="end" stroke="#333" stroke-width="0.1">60</text>
<line x1="43.00" y1="178.13" x2="46.00" y2="178.13" stroke="#1a1a1a" stroke-width="0.8"/>
<text transform="translate(40.80 180.33)" font-size="6.3" fill="#333" text-anchor="end" stroke="#333" stroke-width="0.1">80</text>
<line x1="43.00" y1="169.47" x2="46.00" y2="169.47" stroke="#1a1a1a" stroke-width="0.8"/>
<text transform="translate(40.80 171.67)" font-size="6.3" fill="#333" text-anchor="end" stroke="#333" stroke-width="0.1">100</text>
<line x1="43.00" y1="160.80" x2="46.00" y2="160.80" stroke="#1a1a1a" stroke-width="0.8"/>
<text transform="translate(40.80 163.00)" font-size="6.3" fill="#333" text-anchor="end" stroke="#333" stroke-width="0.1">120</text>
<line x1="45.55" y1="212.80" x2="84.50" y2="212.80" stroke="#1a1a1a" stroke-width="0.9"/>
<text transform="translate(57.30 221.00) scale(0.952 1)" font-size="7.0" fill="#333" text-anchor="middle" stroke="#333" stroke-width="0.1">low</text>
<text transform="translate(74.10 221.00) scale(0.952 1)" font-size="7.0" fill="#333" text-anchor="middle" stroke="#333" stroke-width="0.1">high</text>
<text transform="translate(82.00 212.40)" font-size="7.4" fill="#333" text-anchor="middle" stroke="#333" stroke-width="0.1">**</text>
<text transform="translate(13.50 186.10) rotate(-90) scale(0.899 1)" font-size="7.0" fill="#333" text-anchor="middle" stroke="#333" stroke-width="0.1">Lineage</text>
<text transform="translate(22.90 185.00) rotate(-90) scale(0.800 1)" font-size="8.6" fill="#333" text-anchor="middle" stroke="#333" stroke-width="0.1">distribution (%)</text>
<rect x="84.00" y="162.00" width="6.00" height="3.20" fill="#d9c0d8"/>
<text transform="translate(93.20 166.10) scale(0.945 1)" font-size="7.0" fill="#333" stroke="#333" stroke-width="0.1">Myeloid</text>
<rect x="84.00" y="171.00" width="6.00" height="3.20" fill="#c87a2a"/>
<text transform="translate(93.20 175.10) scale(0.873 1)" font-size="7.0" fill="#333" stroke="#333" stroke-width="0.1">B cells</text>
<rect x="84.00" y="179.80" width="6.00" height="3.20" fill="#1a5e40"/>
<text transform="translate(93.20 183.90) scale(0.886 1)" font-size="7.0" fill="#333" stroke="#333" stroke-width="0.1">T cells</text>
<defs>
<linearGradient id="gD" x1="0" x2="1" y1="0" y2="0">
<stop offset="0" stop-color="#e0202a"/><stop offset="0.08" stop-color="#e63a35"/><stop offset="0.16" stop-color="#ee8a7a"/><stop offset="0.36" stop-color="#f6cfc6"/>
<stop offset="0.45" stop-color="#f5f3f3"/><stop offset="0.55" stop-color="#e6eef6"/><stop offset="0.68" stop-color="#8dbde0"/><stop offset="0.78" stop-color="#3a8fcb"/><stop offset="1" stop-color="#1e6fae"/>
</linearGradient>
<linearGradient id="gE" x1="0" x2="1" y1="0" y2="0">
<stop offset="0" stop-color="#d81e25"/><stop offset="0.55" stop-color="#dd2f2e"/><stop offset="0.74" stop-color="#e65446"/><stop offset="0.82" stop-color="#f09a88"/>
<stop offset="0.9" stop-color="#f8e2da"/><stop offset="0.93" stop-color="#bcd8ee"/><stop offset="0.96" stop-color="#3d95d3"/><stop offset="1" stop-color="#2a85c7"/>
</linearGradient>
</defs>
<text transform="translate(132.80 139.80) scale(0.900 1)" font-size="11.2" fill="#111" font-weight="bold" stroke="#111" stroke-width="0.3">D</text>
<text transform="translate(394.00 140.20) scale(0.900 1)" font-size="11.2" fill="#111" font-weight="bold" stroke="#111" stroke-width="0.3">E</text>
<rect x="163.30" y="204.60" width="0.80" height="10.00" fill="#212121"/>
<rect x="164.74" y="204.60" width="1.20" height="10.00" fill="#5f5f5f"/>
<rect x="165.90" y="204.60" width="1.00" height="10.00" fill="#7f7f7f"/>
<rect x="167.52" y="204.60" width="0.60" height="10.00" fill="#898989"/>
<rect x="169.41" y="204.60" width="0.60" height="10.00" fill="#5a5a5a"/>
<rect x="170.91" y="204.60" width="0.60" height="10.00" fill="#1e1e1e"/>
<rect x="173.03" y="204.60" width="0.60" height="10.00" fill="#404040"/>
<rect x="174.51" y="204.60" width="0.80" height="10.00" fill="#545454"/>
<rect x="176.60" y="204.60" width="0.80" height="10.00" fill="#7a7a7a"/>
<rect x="178.03" y="204.60" width="0.80" height="10.00" fill="#6d6d6d"/>
<rect x="179.94" y="204.60" width="0.80" height="10.00" fill="#1b1b1b"/>
<rect x="181.26" y="204.60" width="1.20" height="10.00" fill="#737373"/>
<rect x="183.19" y="204.60" width="0.80" height="10.00" fill="#494949"/>
<rect x="184.74" y="204.60" width="1.20" height="10.00" fill="#636363"/>
<rect x="186.81" y="204.60" width="1.00" height="10.00" fill="#585858"/>
<rect x="188.30" y="204.60" width="0.60" height="10.00" fill="#414141"/>
<rect x="189.73" y="204.60" width="0.80" height="10.00" fill="#424242"/>
<rect x="190.70" y="204.60" width="1.00" height="10.00" fill="#6f6f6f"/>
<rect x="191.91" y="204.60" width="0.80" height="10.00" fill="#8b8b8b"/>
<rect x="193.05" y="204.60" width="1.20" height="10.00" fill="#565656"/>
<rect x="194.91" y="204.60" width="0.60" height="10.00" fill="#818181"/>
<rect x="196.96" y="204.60" width="0.80" height="10.00" fill="#8a8a8a"/>
<rect x="198.83" y="204.60" width="0.80" height="10.00" fill="#212121"/>
<rect x="200.10" y="204.60" width="0.80" height="10.00" fill="#4d4d4d"/>
<rect x="203.33" y="204.60" width="1.00" height="10.00" fill="#3c3c3c"/>
<rect x="204.67" y="204.60" width="1.00" height="10.00" fill="#a5a5a5"/>
<rect x="206.62" y="204.60" width="1.20" height="10.00" fill="#8d8d8d"/>
<rect x="208.22" y="204.60" width="0.80" height="10.00" fill="#363636"/>
<rect x="209.76" y="204.60" width="0.80" height="10.00" fill="#242424"/>
<rect x="211.92" y="204.60" width="1.00" height="10.00" fill="#737373"/>
<rect x="213.82" y="204.60" width="1.00" height="10.00" fill="#6a6a6a"/>
<rect x="217.78" y="204.60" width="1.20" height="10.00" fill="#838383"/>
<rect x="219.21" y="204.60" width="1.20" height="10.00" fill="#7a7a7a"/>
<rect x="220.78" y="204.60" width="0.80" height="10.00" fill="#171717"/>
<rect x="222.19" y="204.60" width="1.20" height="10.00" fill="#9f9f9f"/>
<rect x="223.89" y="204.60" width="0.80" height="10.00" fill="#1a1a1a"/>
<rect x="227.32" y="204.60" width="0.80" height="10.00" fill="#878787"/>
<rect x="230.74" y="204.60" width="1.00" height="10.00" fill="#6c6c6c"/>
<rect x="232.15" y="204.60" width="1.20" height="10.00" fill="#4d4d4d"/>
<rect x="233.20" y="204.60" width="0.60" height="10.00" fill="#5e5e5e"/>
<rect x="234.52" y="204.60" width="1.20" height="10.00" fill="#555555"/>
<rect x="235.73" y="204.60" width="0.60" height="10.00" fill="#636363"/>
<rect x="237.02" y="204.60" width="0.80" height="10.00" fill="#4f4f4f"/>
<rect x="238.50" y="204.60" width="0.80" height="10.00" fill="#303030"/>
<rect x="239.88" y="204.60" width="0.60" height="10.00" fill="#4f4f4f"/>
<rect x="241.55" y="204.60" width="0.60" height="10.00" fill="#828282"/>
<rect x="243.18" y="204.60" width="1.20" height="10.00" fill="#1c1c1c"/>
<rect x="244.44" y="204.60" width="1.20" height="10.00" fill="#1c1c1c"/>
<rect x="245.93" y="204.60" width="1.00" height="10.00" fill="#484848"/>
<rect x="247.58" y="204.60" width="0.60" height="10.00" fill="#575757"/>
<rect x="248.82" y="204.60" width="0.80" height="10.00" fill="#606060"/>
<rect x="249.92" y="204.60" width="0.80" height="10.00" fill="#4b4b4b"/>
<rect x="162.30" y="214.60" width="88.70" height="4.00" fill="url(#gD)"/>
<line x1="162.30" y1="160.30" x2="162.30" y2="219.00" stroke="#1a1a1a" stroke-width="0.9"/>
<line x1="161.85" y1="218.60" x2="251.00" y2="218.60" stroke="#1a1a1a" stroke-width="0.9"/>
<line x1="159.90" y1="162.60" x2="162.30" y2="162.60" stroke="#1a1a1a" stroke-width="0.7"/>
<text transform="translate(156.00 164.80) scale(0.920 1)" font-size="6.4" fill="#333" text-anchor="end" stroke="#333" stroke-width="0.1">0.1</text>
<line x1="159.90" y1="172.00" x2="162.30" y2="172.00" stroke="#1a1a1a" stroke-width="0.7"/>
<text transform="translate(156.00 174.20) scale(0.920 1)" font-size="6.4" fill="#333" text-anchor="end" stroke="#333" stroke-width="0.1">0.0</text>
<line x1="159.90" y1="181.60" x2="162.30" y2="181.60" stroke="#1a1a1a" stroke-width="0.7"/>
<text transform="translate(156.00 183.80) scale(0.920 1)" font-size="6.4" fill="#333" text-anchor="end" stroke="#333" stroke-width="0.1">−0.1</text>
<line x1="159.90" y1="191.20" x2="162.30" y2="191.20" stroke="#1a1a1a" stroke-width="0.7"/>
<text transform="translate(156.00 193.40) scale(0.920 1)" font-size="6.4" fill="#333" text-anchor="end" stroke="#333" stroke-width="0.1">−0.2</text>
<line x1="159.90" y1="200.60" x2="162.30" y2="200.60" stroke="#1a1a1a" stroke-width="0.7"/>
<text transform="translate(156.00 202.80) scale(0.920 1)" font-size="6.4" fill="#333" text-anchor="end" stroke="#333" stroke-width="0.1">−0.3</text>
<path d="M162.28,172.23 L162.71,171.96 L163.33,171.18 L164.04,170.44 L164.82,169.23 L165.69,167.48 L166.56,166.31 L167.40,166.12 L168.24,165.37 L169.08,165.18 L169.92,165.82 L170.76,165.90 L171.60,166.30 L172.39,165.79 L173.19,165.36 L174.12,164.63 L175.29,164.71 L176.59,164.73 L177.90,164.34 L179.16,164.11 L180.42,163.65 L181.68,163.06 L182.94,163.56 L184.19,163.74 L185.45,163.96 L186.71,164.28 L187.97,165.38 L189.23,165.82 L190.44,166.70 L191.66,167.61 L193.01,168.49 L194.60,169.83 L196.32,170.91 L198.05,172.57 L199.73,173.76 L201.41,175.48 L203.09,176.91 L204.77,177.94 L206.44,179.49 L208.12,181.04 L209.80,182.94 L211.48,184.05 L213.16,185.57 L214.84,186.73 L216.52,188.19 L218.20,189.45 L219.88,190.79 L221.56,192.29 L223.24,193.60 L224.92,195.03 L226.59,196.07 L228.27,197.34 L230.00,198.39 L231.72,199.52 L233.31,200.20 L234.68,200.55 L235.91,201.45 L237.09,201.89 L238.25,202.17 L239.35,202.18 L240.37,202.25 L241.26,201.67 L242.07,201.55 L242.88,200.64 L243.75,199.38 L244.62,197.91 L245.40,197.04 L246.06,195.89 L246.65,194.12 L247.17,193.23 L247.63,191.62 L248.03,190.01 L248.43,188.39 L248.85,186.69 L249.27,184.53 L249.69,181.44 L250.15,178.29 L250.62,174.10 L250.94,171.64" fill="none" stroke="#3c9c40" stroke-width="1.1" stroke-linejoin="round"/>
<text transform="translate(207.00 149.70)" font-size="8.4" fill="#2a2a2a" text-anchor="middle" stroke="#2a2a2a" stroke-width="0.1">Aging</text>
<text transform="translate(163.90 195.30) scale(0.959 1)" font-size="6.6" fill="#333" stroke="#333" stroke-width="0.1">NES = −1.338748</text>
<text transform="translate(163.90 202.90) scale(0.906 1)" font-size="6.6" fill="#333" stroke="#333" stroke-width="0.1"><tspan font-style="italic">P</tspan> = 1.7e−03</text>
<text transform="translate(165.70 230.10) scale(0.903 1)" font-size="6.6" fill="#2b2b2b" stroke="#2b2b2b" stroke-width="0.1">FUS<tspan font-size="4.49" dy="-2.51">low</tspan></text>
<text transform="translate(249.80 230.10) scale(0.922 1)" font-size="6.6" fill="#2b2b2b" text-anchor="end" stroke="#2b2b2b" stroke-width="0.1">FUS<tspan font-size="4.49" dy="-2.51">high</tspan></text>
<text transform="translate(139.00 190.00) rotate(-90) scale(0.923 1)" font-size="7.0" fill="#333" text-anchor="middle" stroke="#333" stroke-width="0.1">Enrichment score (ES)</text>
<rect x="291.00" y="205.60" width="1.00" height="9.40" fill="#595959"/>
<rect x="292.50" y="205.60" width="0.80" height="9.40" fill="#242424"/>
<rect x="293.89" y="205.60" width="0.60" height="9.40" fill="#1a1a1a"/>
<rect x="295.70" y="205.60" width="1.20" height="9.40" fill="#595959"/>
<rect x="297.64" y="205.60" width="0.80" height="9.40" fill="#3b3b3b"/>
<rect x="299.52" y="205.60" width="1.20" height="9.40" fill="#252525"/>
<rect x="302.84" y="205.60" width="0.80" height="9.40" fill="#868686"/>
<rect x="304.71" y="205.60" width="1.00" height="9.40" fill="#585858"/>
<rect x="306.80" y="205.60" width="1.20" height="9.40" fill="#4e4e4e"/>
<rect x="307.98" y="205.60" width="0.80" height="9.40" fill="#838383"/>
<rect x="310.00" y="205.60" width="0.60" height="9.40" fill="#4b4b4b"/>
<rect x="312.14" y="205.60" width="1.20" height="9.40" fill="#3b3b3b"/>
<rect x="314.21" y="205.60" width="1.00" height="9.40" fill="#5e5e5e"/>
<rect x="316.23" y="205.60" width="1.00" height="9.40" fill="#333333"/>
<rect x="318.29" y="205.60" width="1.20" height="9.40" fill="#383838"/>
<rect x="321.55" y="205.60" width="0.80" height="9.40" fill="#717171"/>
<rect x="323.26" y="205.60" width="0.60" height="9.40" fill="#aeaeae"/>
<rect x="327.13" y="205.60" width="0.60" height="9.40" fill="#8c8c8c"/>
<rect x="329.50" y="205.60" width="1.20" height="9.40" fill="#4b4b4b"/>
<rect x="333.33" y="205.60" width="1.00" height="9.40" fill="#575757"/>
<rect x="334.99" y="205.60" width="1.20" height="9.40" fill="#9f9f9f"/>
<rect x="336.50" y="205.60" width="1.20" height="9.40" fill="#7b7b7b"/>
<rect x="338.60" y="205.60" width="1.00" height="9.40" fill="#838383"/>
<rect x="340.01" y="205.60" width="0.60" height="9.40" fill="#656565"/>
<rect x="342.95" y="205.60" width="1.00" height="9.40" fill="#9b9b9b"/>
<rect x="345.74" y="205.60" width="0.60" height="9.40" fill="#717171"/>
<rect x="348.51" y="205.60" width="1.00" height="9.40" fill="#c7c7c7"/>
<rect x="350.08" y="205.60" width="1.20" height="9.40" fill="#8c8c8c"/>
<rect x="352.94" y="205.60" width="1.20" height="9.40" fill="#585858"/>
<rect x="354.35" y="205.60" width="0.80" height="9.40" fill="#454545"/>
<rect x="355.69" y="205.60" width="1.00" height="9.40" fill="#484848"/>
<rect x="357.01" y="205.60" width="1.00" height="9.40" fill="#787878"/>
<rect x="357.83" y="205.60" width="0.60" height="9.40" fill="#818181"/>
<rect x="359.16" y="205.60" width="0.80" height="9.40" fill="#606060"/>
<rect x="360.73" y="205.60" width="1.00" height="9.40" fill="#393939"/>
<rect x="362.05" y="205.60" width="0.80" height="9.40" fill="#464646"/>
<rect x="363.38" y="205.60" width="0.60" height="9.40" fill="#4e4e4e"/>
<rect x="364.54" y="205.60" width="0.80" height="9.40" fill="#323232"/>
<rect x="365.79" y="205.60" width="0.80" height="9.40" fill="#636363"/>
<rect x="367.09" y="205.60" width="1.20" height="9.40" fill="#636363"/>
<rect x="367.96" y="205.60" width="0.80" height="9.40" fill="#3c3c3c"/>
<rect x="368.93" y="205.60" width="1.00" height="9.40" fill="#808080"/>
<rect x="370.14" y="205.60" width="0.60" height="9.40" fill="#434343"/>
<rect x="371.61" y="205.60" width="1.00" height="9.40" fill="#4a4a4a"/>
<rect x="372.54" y="205.60" width="0.80" height="9.40" fill="#666666"/>
<rect x="373.88" y="205.60" width="1.20" height="9.40" fill="#585858"/>
<rect x="375.20" y="205.60" width="1.20" height="9.40" fill="#7a7a7a"/>
<rect x="376.47" y="205.60" width="1.00" height="9.40" fill="#141414"/>
<rect x="290.00" y="215.00" width="87.40" height="3.60" fill="url(#gD)"/>
<line x1="290.00" y1="160.30" x2="290.00" y2="219.00" stroke="#1a1a1a" stroke-width="0.9"/>
<line x1="289.55" y1="218.60" x2="377.40" y2="218.60" stroke="#1a1a1a" stroke-width="0.9"/>
<line x1="287.60" y1="163.30" x2="290.00" y2="163.30" stroke="#1a1a1a" stroke-width="0.7"/>
<text transform="translate(286.30 165.50) scale(0.920 1)" font-size="6.4" fill="#333" text-anchor="end" stroke="#333" stroke-width="0.1">0.1</text>
<line x1="287.60" y1="170.40" x2="290.00" y2="170.40" stroke="#1a1a1a" stroke-width="0.7"/>
<text transform="translate(286.30 172.60) scale(0.920 1)" font-size="6.4" fill="#333" text-anchor="end" stroke="#333" stroke-width="0.1">0.0</text>
<line x1="287.60" y1="177.30" x2="290.00" y2="177.30" stroke="#1a1a1a" stroke-width="0.7"/>
<text transform="translate(286.30 179.50) scale(0.920 1)" font-size="6.4" fill="#333" text-anchor="end" stroke="#333" stroke-width="0.1">−0.1</text>
<line x1="287.60" y1="184.20" x2="290.00" y2="184.20" stroke="#1a1a1a" stroke-width="0.7"/>
<text transform="translate(286.30 186.40) scale(0.920 1)" font-size="6.4" fill="#333" text-anchor="end" stroke="#333" stroke-width="0.1">−0.2</text>
<line x1="287.60" y1="191.20" x2="290.00" y2="191.20" stroke="#1a1a1a" stroke-width="0.7"/>
<text transform="translate(286.30 193.40) scale(0.920 1)" font-size="6.4" fill="#333" text-anchor="end" stroke="#333" stroke-width="0.1">−0.3</text>
<line x1="287.60" y1="198.10" x2="290.00" y2="198.10" stroke="#1a1a1a" stroke-width="0.7"/>
<text transform="translate(286.30 200.30) scale(0.920 1)" font-size="6.4" fill="#333" text-anchor="end" stroke="#333" stroke-width="0.1">−0.4</text>
<line x1="287.60" y1="205.10" x2="290.00" y2="205.10" stroke="#1a1a1a" stroke-width="0.7"/>
<text transform="translate(286.30 207.30) scale(0.920 1)" font-size="6.4" fill="#333" text-anchor="end" stroke="#333" stroke-width="0.1">−0.5</text>
<path d="M289.77,170.46 L290.09,170.02 L290.54,169.29 L291.06,168.60 L291.54,167.87 L291.98,167.64 L292.43,166.90 L292.87,167.01 L293.31,167.12 L293.76,166.72 L294.22,166.65 L294.66,165.95 L295.08,165.94 L295.46,165.59 L295.82,165.55 L296.17,165.34 L296.50,164.79 L296.82,164.65 L297.13,164.39 L297.43,164.54 L297.73,164.35 L298.04,164.10 L298.34,164.74 L298.65,164.64 L298.97,165.15 L299.30,165.00 L299.65,165.03 L300.01,165.63 L300.39,165.26 L300.81,165.19 L301.25,165.51 L301.71,165.32 L302.16,164.95 L302.58,165.50 L302.99,165.49 L303.43,165.84 L303.93,165.78 L304.53,166.38 L305.20,166.36 L305.90,166.64 L306.58,166.74 L307.22,166.52 L307.85,166.69 L308.51,166.75 L309.24,166.99 L310.02,167.27 L310.84,167.81 L311.75,168.46 L312.78,168.67 L313.98,169.77 L315.32,170.36 L316.72,171.19 L318.09,172.35 L319.33,172.95 L320.52,173.63 L321.82,174.61 L323.40,175.82 L325.36,176.80 L327.60,178.91 L329.95,179.99 L332.25,182.04 L334.46,183.65 L336.68,184.70 L338.89,186.71 L341.10,188.01 L343.31,189.71 L345.53,190.95 L347.74,192.52 L349.95,194.09 L352.25,196.00 L354.60,196.97 L356.84,198.62 L358.80,199.85 L360.42,200.75 L361.79,201.10 L362.99,201.69 L364.11,202.26 L365.12,202.78 L365.99,202.62 L366.81,203.16 L367.65,203.31 L368.58,203.45 L369.53,203.02 L370.43,203.54 L371.19,202.88 L371.76,202.86 L372.19,202.81 L372.56,202.53 L372.96,201.26 L373.40,200.21 L373.84,198.18 L374.29,195.86 L374.73,193.29 L375.19,189.98 L375.67,186.12 L376.12,182.34 L376.50,179.35 L376.80,176.74 L377.05,173.73 L377.24,171.58 L377.38,170.39" fill="none" stroke="#3c9c40" stroke-width="1.1" stroke-linejoin="round"/>
<text transform="translate(334.00 149.70) scale(1.005 1)" font-size="8.4" fill="#2a2a2a" text-anchor="middle" stroke="#2a2a2a" stroke-width="0.1">Myeloid differentiation</text>
<text transform="translate(292.00 195.90) scale(0.939 1)" font-size="6.6" fill="#333" stroke="#333" stroke-width="0.1">NES = −1.965031</text>
<text transform="translate(292.00 203.50) scale(0.954 1)" font-size="6.6" fill="#333" stroke="#333" stroke-width="0.1"><tspan font-style="italic">P</tspan> = 6.138669e−06</text>
<text transform="translate(293.40 230.10) scale(0.903 1)" font-size="6.6" fill="#2b2b2b" stroke="#2b2b2b" stroke-width="0.1">FUS<tspan font-size="4.49" dy="-2.51">low</tspan></text>
<text transform="translate(376.20 230.10) scale(0.922 1)" font-size="6.6" fill="#2b2b2b" text-anchor="end" stroke="#2b2b2b" stroke-width="0.1">FUS<tspan font-size="4.49" dy="-2.51">high</tspan></text>
<text transform="translate(264.40 190.00) rotate(-90) scale(0.923 1)" font-size="7.0" fill="#333" text-anchor="middle" stroke="#333" stroke-width="0.1">Enrichment score (ES)</text>
<rect x="422.30" y="204.80" width="1.00" height="9.40" fill="#3d3d3d"/>
<rect x="423.00" y="204.80" width="1.00" height="9.40" fill="#333333"/>
<rect x="423.89" y="204.80" width="1.20" height="9.40" fill="#303030"/>
<rect x="424.52" y="204.80" width="1.00" height="9.40" fill="#1b1b1b"/>
<rect x="424.96" y="204.80" width="1.20" height="9.40" fill="#454545"/>
<rect x="425.82" y="204.80" width="1.20" height="9.40" fill="#353535"/>
<rect x="426.42" y="204.80" width="0.60" height="9.40" fill="#3d3d3d"/>
<rect x="427.08" y="204.80" width="0.80" height="9.40" fill="#212121"/>
<rect x="427.59" y="204.80" width="0.80" height="9.40" fill="#191919"/>
<rect x="428.21" y="204.80" width="1.20" height="9.40" fill="#1c1c1c"/>
<rect x="429.19" y="204.80" width="1.00" height="9.40" fill="#414141"/>
<rect x="429.94" y="204.80" width="1.00" height="9.40" fill="#181818"/>
<rect x="430.45" y="204.80" width="0.80" height="9.40" fill="#202020"/>
<rect x="431.43" y="204.80" width="0.80" height="9.40" fill="#606060"/>
<rect x="433.01" y="204.80" width="0.60" height="9.40" fill="#777777"/>
<rect x="434.22" y="204.80" width="1.20" height="9.40" fill="#474747"/>
<rect x="436.05" y="204.80" width="0.80" height="9.40" fill="#525252"/>
<rect x="437.72" y="204.80" width="0.60" height="9.40" fill="#8f8f8f"/>
<rect x="439.32" y="204.80" width="1.20" height="9.40" fill="#5a5a5a"/>
<rect x="441.17" y="204.80" width="0.80" height="9.40" fill="#969696"/>
<rect x="442.20" y="204.80" width="0.80" height="9.40" fill="#454545"/>
<rect x="443.39" y="204.80" width="0.80" height="9.40" fill="#808080"/>
<rect x="444.82" y="204.80" width="0.80" height="9.40" fill="#595959"/>
<rect x="448.35" y="204.80" width="1.20" height="9.40" fill="#a6a6a6"/>
<rect x="451.14" y="204.80" width="1.20" height="9.40" fill="#c5c5c5"/>
<rect x="452.78" y="204.80" width="0.80" height="9.40" fill="#c1c1c1"/>
<rect x="454.49" y="204.80" width="1.00" height="9.40" fill="#ababab"/>
<rect x="457.24" y="204.80" width="0.80" height="9.40" fill="#c8c8c8"/>
<rect x="461.03" y="204.80" width="0.60" height="9.40" fill="#737373"/>
<rect x="464.05" y="204.80" width="1.20" height="9.40" fill="#909090"/>
<rect x="466.95" y="204.80" width="1.20" height="9.40" fill="#aeaeae"/>
<rect x="468.36" y="204.80" width="1.00" height="9.40" fill="#bfbfbf"/>
<rect x="471.24" y="204.80" width="1.00" height="9.40" fill="#ababab"/>
<rect x="478.83" y="204.80" width="1.20" height="9.40" fill="#c4c4c4"/>
<rect x="481.39" y="204.80" width="0.80" height="9.40" fill="#999999"/>
<rect x="488.57" y="204.80" width="1.00" height="9.40" fill="#9c9c9c"/>
<rect x="491.04" y="204.80" width="1.00" height="9.40" fill="#b7b7b7"/>
<rect x="495.97" y="204.80" width="0.80" height="9.40" fill="#888888"/>
<rect x="498.70" y="204.80" width="1.20" height="9.40" fill="#9c9c9c"/>
<rect x="501.45" y="204.80" width="1.00" height="9.40" fill="#828282"/>
<rect x="421.30" y="214.20" width="91.20" height="4.20" fill="url(#gE)"/>
<line x1="421.30" y1="164.40" x2="421.30" y2="218.80" stroke="#1a1a1a" stroke-width="0.9"/>
<line x1="420.85" y1="218.40" x2="512.50" y2="218.40" stroke="#1a1a1a" stroke-width="0.9"/>
<line x1="418.90" y1="171.30" x2="421.30" y2="171.30" stroke="#1a1a1a" stroke-width="0.7"/>
<text transform="translate(417.00 173.50) scale(0.920 1)" font-size="6.4" fill="#333" text-anchor="end" stroke="#333" stroke-width="0.1">0.6</text>
<line x1="418.90" y1="181.80" x2="421.30" y2="181.80" stroke="#1a1a1a" stroke-width="0.7"/>
<text transform="translate(417.00 184.00) scale(0.920 1)" font-size="6.4" fill="#333" text-anchor="end" stroke="#333" stroke-width="0.1">0.4</text>
<line x1="418.90" y1="192.40" x2="421.30" y2="192.40" stroke="#1a1a1a" stroke-width="0.7"/>
<text transform="translate(417.00 194.60) scale(0.920 1)" font-size="6.4" fill="#333" text-anchor="end" stroke="#333" stroke-width="0.1">0.2</text>
<line x1="418.90" y1="202.60" x2="421.30" y2="202.60" stroke="#1a1a1a" stroke-width="0.7"/>
<text transform="translate(417.00 204.80) scale(0.920 1)" font-size="6.4" fill="#333" text-anchor="end" stroke="#333" stroke-width="0.1">0.0</text>
<path d="M420.88,201.33 L421.12,198.92 L421.46,195.36 L421.85,192.15 L422.23,188.55 L422.57,186.57 L422.90,184.88 L423.29,182.64 L423.77,181.18 L424.40,179.42 L425.13,177.33 L425.90,175.87 L426.65,174.54 L427.37,172.98 L428.09,171.83 L428.82,170.34 L429.54,169.46 L430.26,168.74 L430.98,168.55 L431.70,168.53 L432.42,168.13 L433.16,168.15 L433.93,167.94 L434.66,168.22 L435.31,167.84 L435.84,167.90 L436.27,168.05 L436.70,167.97 L437.23,167.64 L437.88,167.21 L438.62,167.01 L439.38,166.70 L440.12,166.60 L440.82,166.92 L441.50,166.66 L442.21,167.27 L443.00,167.54 L443.76,167.35 L444.50,167.91 L445.46,168.48 L446.85,168.94 L448.85,170.26 L451.29,171.89 L453.92,172.84 L456.46,174.48 L458.86,175.42 L461.27,176.90 L463.68,178.27 L466.08,179.05 L468.48,180.11 L470.88,181.33 L473.29,182.79 L475.69,183.75 L478.09,185.19 L480.50,186.92 L482.91,188.67 L485.31,189.76 L487.71,191.02 L490.12,192.36 L492.52,193.20 L494.92,194.67 L497.39,195.65 L499.91,197.15 L502.34,198.56 L504.54,199.15 L506.58,200.57 L508.51,201.71 L510.13,202.39 L511.27,203.27" fill="none" stroke="#3c9c40" stroke-width="1.1" stroke-linejoin="round"/>
<text transform="translate(465.60 149.70) scale(0.953 1)" font-size="8.4" fill="#2a2a2a" text-anchor="middle" stroke="#2a2a2a" stroke-width="0.1">HSC fingerprints</text>
<text transform="translate(429.50 193.90) scale(0.963 1)" font-size="6.6" fill="#333" stroke="#333" stroke-width="0.1">NES = 2.864322</text>
<text transform="translate(429.50 201.50) scale(0.930 1)" font-size="6.6" fill="#333" stroke="#333" stroke-width="0.1"><tspan font-style="italic">P</tspan> = 2.149365e−25</text>
<text transform="translate(424.70 230.10) scale(0.903 1)" font-size="6.6" fill="#2b2b2b" stroke="#2b2b2b" stroke-width="0.1">FUS<tspan font-size="4.49" dy="-2.51">low</tspan></text>
<text transform="translate(511.30 230.10) scale(0.922 1)" font-size="6.6" fill="#2b2b2b" text-anchor="end" stroke="#2b2b2b" stroke-width="0.1">FUS<tspan font-size="4.49" dy="-2.51">high</tspan></text>
<text transform="translate(401.60 190.00) rotate(-90) scale(0.923 1)" font-size="7.0" fill="#333" text-anchor="middle" stroke="#333" stroke-width="0.1">Enrichment score (ES)</text>
<text transform="translate(7.80 256.00) scale(0.900 1)" font-size="11.2" fill="#111" font-weight="bold" stroke="#111" stroke-width="0.3">F</text>
<g transform="translate(25.30,281.60) scale(1.000)">
<path d="M0,0 C0.9,-1.1 1.8,-2.2 2.75,-2.75 C3.5,-3.2 4.3,-3.6 4.8,-3.9 C5.0,-5.0 5.9,-5.8 6.75,-5.6 C7.6,-5.4 8.1,-4.6 7.9,-3.5 L8.3,-3.4 C10.5,-4.2 13.2,-3.8 15.2,-2.3 C17.2,-0.8 18.5,2.0 18.5,4.3 C18.5,5.8 18.0,6.6 17.2,6.9 L11.0,7.1 L10.6,7.7 L8.0,7.7 L8.6,6.9 L6.6,6.7 L6.0,6.9 L4.0,6.9 L4.4,5.9 C3.9,5.2 3.5,4.6 3.2,4.0 C2.2,3.3 0.8,2.0 0,0 Z" fill="#808080"/>
<path d="M17.6,5.4 C21,9.6 30,10.8 37.8,7.4" fill="none" stroke="#808080" stroke-width="1.0" stroke-linecap="round"/>
<circle cx="3.7" cy="-0.8" r="0.5" fill="#333"/>
</g>
<text transform="translate(68.00 288.20) scale(0.798 1)" font-size="7.2" fill="#2b2b2b" stroke="#2b2b2b" stroke-width="0.1">FACS</text>
<line x1="66.00" y1="289.90" x2="87.70" y2="289.90" stroke="#222" stroke-width="0.7"/>
<path d="M89.60,289.90 L86.74,288.36 L86.74,291.44 Z" fill="#222"/>
<text transform="translate(46.90 300.10) scale(0.903 1)" font-size="7.2" fill="#333" text-anchor="middle" stroke="#333" stroke-width="0.1">Young</text>
<g transform="translate(25.30,336.00) scale(1.000)">
<path d="M0,0 C0.9,-1.1 1.8,-2.2 2.75,-2.75 C3.5,-3.2 4.3,-3.6 4.8,-3.9 C5.0,-5.0 5.9,-5.8 6.75,-5.6 C7.6,-5.4 8.1,-4.6 7.9,-3.5 L8.3,-3.4 C10.5,-4.2 13.2,-3.8 15.2,-2.3 C17.2,-0.8 18.5,2.0 18.5,4.3 C18.5,5.8 18.0,6.6 17.2,6.9 L11.0,7.1 L10.6,7.7 L8.0,7.7 L8.6,6.9 L6.6,6.7 L6.0,6.9 L4.0,6.9 L4.4,5.9 C3.9,5.2 3.5,4.6 3.2,4.0 C2.2,3.3 0.8,2.0 0,0 Z" fill="#808080"/>
<path d="M17.6,5.4 C21,9.6 30,10.8 37.8,7.4" fill="none" stroke="#808080" stroke-width="1.0" stroke-linecap="round"/>
<circle cx="3.7" cy="-0.8" r="0.5" fill="#333"/>
</g>
<text transform="translate(66.40 343.40) scale(0.830 1)" font-size="7.2" fill="#2b2b2b" stroke="#2b2b2b" stroke-width="0.1">FACS</text>
<text transform="translate(47.20 355.90) scale(0.975 1)" font-size="7.2" fill="#333" text-anchor="middle" stroke="#333" stroke-width="0.1">Aged</text>
<line x1="66.00" y1="345.30" x2="83.20" y2="345.30" stroke="#222" stroke-width="0.7"/>
<line x1="83.20" y1="323.20" x2="83.20" y2="367.40" stroke="#222" stroke-width="0.7"/>
<line x1="83.20" y1="323.20" x2="89.10" y2="323.20" stroke="#222" stroke-width="0.7"/>
<path d="M91.00,323.20 L88.14,321.66 L88.14,324.74 Z" fill="#222"/>
<line x1="83.20" y1="345.30" x2="89.10" y2="345.30" stroke="#222" stroke-width="0.7"/>
<path d="M91.00,345.30 L88.14,343.76 L88.14,346.84 Z" fill="#222"/>
<line x1="83.20" y1="367.40" x2="89.10" y2="367.40" stroke="#222" stroke-width="0.7"/>
<path d="M91.00,367.40 L88.14,365.86 L88.14,368.94 Z" fill="#222"/>
<text transform="translate(136.60 265.20) scale(0.913 1)" font-size="7.2" fill="#2b2b2b" stroke="#2b2b2b" stroke-width="0.1">+competitors</text>
<text transform="translate(104.50 277.60) scale(0.835 1)" font-size="7.2" fill="#333" stroke="#333" stroke-width="0.1">100 HSCs</text>
<circle cx="118.50" cy="287.70" r="5.00" fill="#7fd87a"/>
<circle cx="114.70" cy="284.30" r="1.85" fill="#3fb04a" stroke="#1a7a30" stroke-width="0.3"/>
<circle cx="119.20" cy="284.00" r="1.85" fill="#1f8a35" stroke="#1a7a30" stroke-width="0.3"/>
<circle cx="121.80" cy="286.90" r="1.85" fill="#3fb04a" stroke="#1a7a30" stroke-width="0.3"/>
<circle cx="114.70" cy="287.50" r="1.85" fill="#1f8a35" stroke="#1a7a30" stroke-width="0.3"/>
<circle cx="118.30" cy="287.50" r="1.85" fill="#3fb04a" stroke="#1a7a30" stroke-width="0.3"/>
<circle cx="122.50" cy="290.10" r="1.85" fill="#1f8a35" stroke="#1a7a30" stroke-width="0.3"/>
<circle cx="114.20" cy="291.00" r="1.85" fill="#3fb04a" stroke="#1a7a30" stroke-width="0.3"/>
<circle cx="118.10" cy="291.30" r="1.85" fill="#1f8a35" stroke="#1a7a30" stroke-width="0.3"/>
<circle cx="120.70" cy="284.80" r="1.85" fill="#3fb04a" stroke="#1a7a30" stroke-width="0.3"/>
<g transform="translate(156.00,278.40) scale(0.900)">
<ellipse cx="0" cy="0.3" rx="5.6" ry="4.4" fill="#c8b8e0"/>
<circle cx="-2.90" cy="-3.00" r="2.30" fill="#e8a898"/>
<circle cx="0.10" cy="-3.40" r="2.30" fill="#f0c6a2"/>
<circle cx="3.00" cy="-2.90" r="2.30" fill="#c9b2dd"/>
<circle cx="-5.00" cy="0.30" r="2.20" fill="#cbbde3"/>
<circle cx="-1.60" cy="0.40" r="2.40" fill="#b9a7d8"/>
<circle cx="1.90" cy="0.20" r="2.40" fill="#d6c8e8"/>
<circle cx="5.00" cy="0.50" r="2.20" fill="#c2b0de"/>
<circle cx="-1.60" cy="3.30" r="2.20" fill="#bcaada"/>
<circle cx="1.70" cy="3.80" r="2.20" fill="#ea9838"/>
</g>
<line x1="144.80" y1="285.60" x2="166.50" y2="285.60" stroke="#222" stroke-width="0.7"/>
<path d="M168.40,285.60 L165.54,284.06 L165.54,287.14 Z" fill="#222"/>
<path transform="translate(166.40,267.80) scale(1.000)" d="M0.4,0.9 L3.2,0 L4.6,4.9 L5.8,4.6 L8.2,12.2 L3.0,6.9 L1.9,7.2 Z" fill="#f6ae22"/>
<g transform="translate(174.60,283.90) scale(1.000)">
<path d="M0,0 C0.9,-1.1 1.8,-2.2 2.75,-2.75 C3.5,-3.2 4.3,-3.6 4.8,-3.9 C5.0,-5.0 5.9,-5.8 6.75,-5.6 C7.6,-5.4 8.1,-4.6 7.9,-3.5 L8.3,-3.4 C10.5,-4.2 13.2,-3.8 15.2,-2.3 C17.2,-0.8 18.5,2.0 18.5,4.3 C18.5,5.8 18.0,6.6 17.2,6.9 L11.0,7.1 L10.6,7.7 L8.0,7.7 L8.6,6.9 L6.6,6.7 L6.0,6.9 L4.0,6.9 L4.4,5.9 C3.9,5.2 3.5,4.6 3.2,4.0 C2.2,3.3 0.8,2.0 0,0 Z" fill="#7a7a7a"/>
<path d="M17.6,5.4 C21,9.6 30,10.8 37.8,7.4" fill="none" stroke="#7a7a7a" stroke-width="1.0" stroke-linecap="round"/>
<circle cx="3.7" cy="-0.8" r="0.5" fill="#333"/>
</g>
<line x1="202.50" y1="289.70" x2="206.42" y2="287.68" stroke="#9a9a9a" stroke-width="0.45"/>
<line x1="206.42" y1="287.68" x2="217.63" y2="281.88" stroke="#9a9a9a" stroke-width="1.2"/>
<line x1="217.63" y1="281.88" x2="220.30" y2="280.50" stroke="#9a9a9a" stroke-width="0.6"/>
<line x1="220.99" y1="281.83" x2="219.61" y2="279.17" stroke="#9a9a9a" stroke-width="0.6"/>
<line x1="218.32" y1="283.21" x2="216.94" y2="280.55" stroke="#9a9a9a" stroke-width="0.6"/>
<text transform="translate(93.80 315.40) scale(0.842 1)" font-size="7.2" fill="#2b2b2b" stroke="#2b2b2b" stroke-width="0.1">100 FUS<tspan font-size="4.90" dy="-2.74">low</tspan><tspan dy="2.74"> HSCs</tspan></text>
<circle cx="118.80" cy="323.40" r="5.00" fill="#a8e890"/>
<circle cx="115.00" cy="320.00" r="1.85" fill="#6ccc60" stroke="#3a9a40" stroke-width="0.3"/>
<circle cx="119.50" cy="319.70" r="1.85" fill="#58be52" stroke="#3a9a40" stroke-width="0.3"/>
<circle cx="122.10" cy="322.60" r="1.85" fill="#6ccc60" stroke="#3a9a40" stroke-width="0.3"/>
<circle cx="115.00" cy="323.20" r="1.85" fill="#58be52" stroke="#3a9a40" stroke-width="0.3"/>
<circle cx="118.60" cy="323.20" r="1.85" fill="#6ccc60" stroke="#3a9a40" stroke-width="0.3"/>
<circle cx="122.80" cy="325.80" r="1.85" fill="#58be52" stroke="#3a9a40" stroke-width="0.3"/>
<circle cx="114.50" cy="326.70" r="1.85" fill="#6ccc60" stroke="#3a9a40" stroke-width="0.3"/>
<circle cx="118.40" cy="327.00" r="1.85" fill="#58be52" stroke="#3a9a40" stroke-width="0.3"/>
<circle cx="121.00" cy="320.50" r="1.85" fill="#6ccc60" stroke="#3a9a40" stroke-width="0.3"/>
<g transform="translate(156.00,315.60) scale(0.900)">
<ellipse cx="0" cy="0.3" rx="5.6" ry="4.4" fill="#c8b8e0"/>
<circle cx="-2.90" cy="-3.00" r="2.30" fill="#e8a898"/>
<circle cx="0.10" cy="-3.40" r="2.30" fill="#f0c6a2"/>
<circle cx="3.00" cy="-2.90" r="2.30" fill="#c9b2dd"/>
<circle cx="-5.00" cy="0.30" r="2.20" fill="#cbbde3"/>
<circle cx="-1.60" cy="0.40" r="2.40" fill="#b9a7d8"/>
<circle cx="1.90" cy="0.20" r="2.40" fill="#d6c8e8"/>
<circle cx="5.00" cy="0.50" r="2.20" fill="#c2b0de"/>
<circle cx="-1.60" cy="3.30" r="2.20" fill="#bcaada"/>
<circle cx="1.70" cy="3.80" r="2.20" fill="#ea9838"/>
</g>
<line x1="144.80" y1="323.30" x2="166.50" y2="323.30" stroke="#222" stroke-width="0.7"/>
<path d="M168.40,323.30 L165.54,321.76 L165.54,324.84 Z" fill="#222"/>
<path transform="translate(166.40,305.80) scale(1.000)" d="M0.4,0.9 L3.2,0 L4.6,4.9 L5.8,4.6 L8.2,12.2 L3.0,6.9 L1.9,7.2 Z" fill="#f6ae22"/>
<g transform="translate(174.60,320.90) scale(1.000)">
<path d="M0,0 C0.9,-1.1 1.8,-2.2 2.75,-2.75 C3.5,-3.2 4.3,-3.6 4.8,-3.9 C5.0,-5.0 5.9,-5.8 6.75,-5.6 C7.6,-5.4 8.1,-4.6 7.9,-3.5 L8.3,-3.4 C10.5,-4.2 13.2,-3.8 15.2,-2.3 C17.2,-0.8 18.5,2.0 18.5,4.3 C18.5,5.8 18.0,6.6 17.2,6.9 L11.0,7.1 L10.6,7.7 L8.0,7.7 L8.6,6.9 L6.6,6.7 L6.0,6.9 L4.0,6.9 L4.4,5.9 C3.9,5.2 3.5,4.6 3.2,4.0 C2.2,3.3 0.8,2.0 0,0 Z" fill="#7a7a7a"/>
<path d="M17.6,5.4 C21,9.6 30,10.8 37.8,7.4" fill="none" stroke="#7a7a7a" stroke-width="1.0" stroke-linecap="round"/>
<circle cx="3.7" cy="-0.8" r="0.5" fill="#333"/>
</g>
<line x1="203.40" y1="326.40" x2="207.16" y2="324.33" stroke="#9a9a9a" stroke-width="0.45"/>
<line x1="207.16" y1="324.33" x2="217.94" y2="318.41" stroke="#9a9a9a" stroke-width="1.2"/>
<line x1="217.94" y1="318.41" x2="220.50" y2="317.00" stroke="#9a9a9a" stroke-width="0.6"/>
<line x1="221.22" y1="318.31" x2="219.78" y2="315.69" stroke="#9a9a9a" stroke-width="0.6"/>
<line x1="218.66" y1="319.72" x2="217.21" y2="317.10" stroke="#9a9a9a" stroke-width="0.6"/>
<text transform="translate(104.50 337.00) scale(0.835 1)" font-size="7.2" fill="#333" stroke="#333" stroke-width="0.1">100 HSCs</text>
<circle cx="118.20" cy="344.90" r="5.00" fill="#3cc48a"/>
<circle cx="114.40" cy="341.50" r="1.85" fill="#0f7a4a" stroke="#064a2e" stroke-width="0.3"/>
<circle cx="118.90" cy="341.20" r="1.85" fill="#0b6a40" stroke="#064a2e" stroke-width="0.3"/>
<circle cx="121.50" cy="344.10" r="1.85" fill="#0f7a4a" stroke="#064a2e" stroke-width="0.3"/>
<circle cx="114.40" cy="344.70" r="1.85" fill="#0b6a40" stroke="#064a2e" stroke-width="0.3"/>
<circle cx="118.00" cy="344.70" r="1.85" fill="#0f7a4a" stroke="#064a2e" stroke-width="0.3"/>
<circle cx="122.20" cy="347.30" r="1.85" fill="#0b6a40" stroke="#064a2e" stroke-width="0.3"/>
<circle cx="113.90" cy="348.20" r="1.85" fill="#0f7a4a" stroke="#064a2e" stroke-width="0.3"/>
<circle cx="117.80" cy="348.50" r="1.85" fill="#0b6a40" stroke="#064a2e" stroke-width="0.3"/>
<circle cx="120.40" cy="342.00" r="1.85" fill="#0f7a4a" stroke="#064a2e" stroke-width="0.3"/>
<g transform="translate(156.00,337.00) scale(0.900)">
<ellipse cx="0" cy="0.3" rx="5.6" ry="4.4" fill="#c8b8e0"/>
<circle cx="-2.90" cy="-3.00" r="2.30" fill="#e8a898"/>
<circle cx="0.10" cy="-3.40" r="2.30" fill="#f0c6a2"/>
<circle cx="3.00" cy="-2.90" r="2.30" fill="#c9b2dd"/>
<circle cx="-5.00" cy="0.30" r="2.20" fill="#cbbde3"/>
<circle cx="-1.60" cy="0.40" r="2.40" fill="#b9a7d8"/>
<circle cx="1.90" cy="0.20" r="2.40" fill="#d6c8e8"/>
<circle cx="5.00" cy="0.50" r="2.20" fill="#c2b0de"/>
<circle cx="-1.60" cy="3.30" r="2.20" fill="#bcaada"/>
<circle cx="1.70" cy="3.80" r="2.20" fill="#ea9838"/>
</g>
<line x1="144.80" y1="345.40" x2="166.50" y2="345.40" stroke="#222" stroke-width="0.7"/>
<path d="M168.40,345.40 L165.54,343.86 L165.54,346.94 Z" fill="#222"/>
<path transform="translate(166.40,328.30) scale(1.000)" d="M0.4,0.9 L3.2,0 L4.6,4.9 L5.8,4.6 L8.2,12.2 L3.0,6.9 L1.9,7.2 Z" fill="#f6ae22"/>
<g transform="translate(174.60,343.10) scale(1.000)">
<path d="M0,0 C0.9,-1.1 1.8,-2.2 2.75,-2.75 C3.5,-3.2 4.3,-3.6 4.8,-3.9 C5.0,-5.0 5.9,-5.8 6.75,-5.6 C7.6,-5.4 8.1,-4.6 7.9,-3.5 L8.3,-3.4 C10.5,-4.2 13.2,-3.8 15.2,-2.3 C17.2,-0.8 18.5,2.0 18.5,4.3 C18.5,5.8 18.0,6.6 17.2,6.9 L11.0,7.1 L10.6,7.7 L8.0,7.7 L8.6,6.9 L6.6,6.7 L6.0,6.9 L4.0,6.9 L4.4,5.9 C3.9,5.2 3.5,4.6 3.2,4.0 C2.2,3.3 0.8,2.0 0,0 Z" fill="#7a7a7a"/>
<path d="M17.6,5.4 C21,9.6 30,10.8 37.8,7.4" fill="none" stroke="#7a7a7a" stroke-width="1.0" stroke-linecap="round"/>
<circle cx="3.7" cy="-0.8" r="0.5" fill="#333"/>
</g>
<line x1="203.40" y1="348.40" x2="207.16" y2="346.44" stroke="#9a9a9a" stroke-width="0.45"/>
<line x1="207.16" y1="346.44" x2="217.94" y2="340.83" stroke="#9a9a9a" stroke-width="1.2"/>
<line x1="217.94" y1="340.83" x2="220.50" y2="339.50" stroke="#9a9a9a" stroke-width="0.6"/>
<line x1="221.19" y1="340.83" x2="219.81" y2="338.17" stroke="#9a9a9a" stroke-width="0.6"/>
<line x1="218.63" y1="342.17" x2="217.24" y2="339.50" stroke="#9a9a9a" stroke-width="0.6"/>
<text transform="translate(93.80 359.00) scale(0.841 1)" font-size="7.2" fill="#2b2b2b" stroke="#2b2b2b" stroke-width="0.1">100 FUS<tspan font-size="4.90" dy="-2.74">high</tspan><tspan dy="2.74"> HSCs</tspan></text>
<circle cx="118.20" cy="366.70" r="5.00" fill="#2fb87e"/>
<circle cx="114.40" cy="363.30" r="1.85" fill="#0a6a42" stroke="#053f28" stroke-width="0.3"/>
<circle cx="118.90" cy="363.00" r="1.85" fill="#085a38" stroke="#053f28" stroke-width="0.3"/>
<circle cx="121.50" cy="365.90" r="1.85" fill="#0a6a42" stroke="#053f28" stroke-width="0.3"/>
<circle cx="114.40" cy="366.50" r="1.85" fill="#085a38" stroke="#053f28" stroke-width="0.3"/>
<circle cx="118.00" cy="366.50" r="1.85" fill="#0a6a42" stroke="#053f28" stroke-width="0.3"/>
<circle cx="122.20" cy="369.10" r="1.85" fill="#085a38" stroke="#053f28" stroke-width="0.3"/>
<circle cx="113.90" cy="370.00" r="1.85" fill="#0a6a42" stroke="#053f28" stroke-width="0.3"/>
<circle cx="117.80" cy="370.30" r="1.85" fill="#085a38" stroke="#053f28" stroke-width="0.3"/>
<circle cx="120.40" cy="363.80" r="1.85" fill="#0a6a42" stroke="#053f28" stroke-width="0.3"/>
<g transform="translate(156.00,358.30) scale(0.900)">
<ellipse cx="0" cy="0.3" rx="5.6" ry="4.4" fill="#c8b8e0"/>
<circle cx="-2.90" cy="-3.00" r="2.30" fill="#e8a898"/>
<circle cx="0.10" cy="-3.40" r="2.30" fill="#f0c6a2"/>
<circle cx="3.00" cy="-2.90" r="2.30" fill="#c9b2dd"/>
<circle cx="-5.00" cy="0.30" r="2.20" fill="#cbbde3"/>
<circle cx="-1.60" cy="0.40" r="2.40" fill="#b9a7d8"/>
<circle cx="1.90" cy="0.20" r="2.40" fill="#d6c8e8"/>
<circle cx="5.00" cy="0.50" r="2.20" fill="#c2b0de"/>
<circle cx="-1.60" cy="3.30" r="2.20" fill="#bcaada"/>
<circle cx="1.70" cy="3.80" r="2.20" fill="#ea9838"/>
</g>
<line x1="144.80" y1="367.40" x2="166.50" y2="367.40" stroke="#222" stroke-width="0.7"/>
<path d="M168.40,367.40 L165.54,365.86 L165.54,368.94 Z" fill="#222"/>
<path transform="translate(166.40,350.00) scale(1.000)" d="M0.4,0.9 L3.2,0 L4.6,4.9 L5.8,4.6 L8.2,12.2 L3.0,6.9 L1.9,7.2 Z" fill="#f6ae22"/>
<g transform="translate(174.60,365.10) scale(1.000)">
<path d="M0,0 C0.9,-1.1 1.8,-2.2 2.75,-2.75 C3.5,-3.2 4.3,-3.6 4.8,-3.9 C5.0,-5.0 5.9,-5.8 6.75,-5.6 C7.6,-5.4 8.1,-4.6 7.9,-3.5 L8.3,-3.4 C10.5,-4.2 13.2,-3.8 15.2,-2.3 C17.2,-0.8 18.5,2.0 18.5,4.3 C18.5,5.8 18.0,6.6 17.2,6.9 L11.0,7.1 L10.6,7.7 L8.0,7.7 L8.6,6.9 L6.6,6.7 L6.0,6.9 L4.0,6.9 L4.4,5.9 C3.9,5.2 3.5,4.6 3.2,4.0 C2.2,3.3 0.8,2.0 0,0 Z" fill="#7a7a7a"/>
<path d="M17.6,5.4 C21,9.6 30,10.8 37.8,7.4" fill="none" stroke="#7a7a7a" stroke-width="1.0" stroke-linecap="round"/>
<circle cx="3.7" cy="-0.8" r="0.5" fill="#333"/>
</g>
<line x1="203.40" y1="370.50" x2="207.16" y2="368.63" stroke="#9a9a9a" stroke-width="0.45"/>
<line x1="207.16" y1="368.63" x2="217.94" y2="363.27" stroke="#9a9a9a" stroke-width="1.2"/>
<line x1="217.94" y1="363.27" x2="220.50" y2="362.00" stroke="#9a9a9a" stroke-width="0.6"/>
<line x1="221.17" y1="363.34" x2="219.83" y2="360.66" stroke="#9a9a9a" stroke-width="0.6"/>
<line x1="218.60" y1="364.62" x2="217.27" y2="361.93" stroke="#9a9a9a" stroke-width="0.6"/>
<text transform="translate(8.00 405.00) scale(0.900 1)" font-size="11.2" fill="#111" font-weight="bold" stroke="#111" stroke-width="0.3">G</text>
<text transform="translate(72.20 423.30) scale(0.951 1)" font-size="8.4" fill="#2a2a2a" text-anchor="middle" stroke="#2a2a2a" stroke-width="0.1">Overall</text>
<line x1="49.60" y1="429.40" x2="49.60" y2="483.95" stroke="#1a1a1a" stroke-width="0.9"/>
<line x1="46.60" y1="483.50" x2="49.60" y2="483.50" stroke="#1a1a1a" stroke-width="0.8"/>
<text transform="translate(43.70 485.70)" font-size="6.2" fill="#333" text-anchor="end" stroke="#333" stroke-width="0.1">0</text>
<line x1="46.60" y1="473.20" x2="49.60" y2="473.20" stroke="#1a1a1a" stroke-width="0.8"/>
<text transform="translate(43.70 475.40)" font-size="6.2" fill="#333" text-anchor="end" stroke="#333" stroke-width="0.1">20</text>
<line x1="46.60" y1="462.90" x2="49.60" y2="462.90" stroke="#1a1a1a" stroke-width="0.8"/>
<text transform="translate(43.70 465.10)" font-size="6.2" fill="#333" text-anchor="end" stroke="#333" stroke-width="0.1">40</text>
<line x1="46.60" y1="452.60" x2="49.60" y2="452.60" stroke="#1a1a1a" stroke-width="0.8"/>
<text transform="translate(43.70 454.80)" font-size="6.2" fill="#333" text-anchor="end" stroke="#333" stroke-width="0.1">60</text>
<line x1="46.60" y1="442.30" x2="49.60" y2="442.30" stroke="#1a1a1a" stroke-width="0.8"/>
<text transform="translate(43.70 444.50)" font-size="6.2" fill="#333" text-anchor="end" stroke="#333" stroke-width="0.1">80</text>
<line x1="46.60" y1="432.00" x2="49.60" y2="432.00" stroke="#1a1a1a" stroke-width="0.8"/>
<text transform="translate(43.70 434.20)" font-size="6.2" fill="#333" text-anchor="end" stroke="#333" stroke-width="0.1">100</text>
<line x1="49.15" y1="483.50" x2="97.80" y2="483.50" stroke="#1a1a1a" stroke-width="0.9"/>
<line x1="49.60" y1="483.50" x2="49.60" y2="486.30" stroke="#1a1a1a" stroke-width="0.8"/>
<text transform="translate(49.60 495.50)" font-size="6.3" fill="#333" text-anchor="middle" stroke="#333" stroke-width="0.1">0</text>
<line x1="64.40" y1="483.50" x2="64.40" y2="486.30" stroke="#1a1a1a" stroke-width="0.8"/>
<text transform="translate(64.40 495.50)" font-size="6.3" fill="#333" text-anchor="middle" stroke="#333" stroke-width="0.1">4</text>
<line x1="79.80" y1="483.50" x2="79.80" y2="486.30" stroke="#1a1a1a" stroke-width="0.8"/>
<text transform="translate(79.80 495.50)" font-size="6.3" fill="#333" text-anchor="middle" stroke="#333" stroke-width="0.1">8</text>
<line x1="95.00" y1="483.50" x2="95.00" y2="486.30" stroke="#1a1a1a" stroke-width="0.8"/>
<text transform="translate(95.00 495.50)" font-size="6.3" fill="#333" text-anchor="middle" stroke="#333" stroke-width="0.1">12</text>
<polyline points="64.40,464.44 79.80,463.93 95.00,462.38" fill="none" stroke="#245a9c" stroke-width="1.1" stroke-linejoin="round"/>
<line x1="64.40" y1="467.54" x2="64.40" y2="460.84" stroke="#245a9c" stroke-width="0.6"/>
<line x1="63.20" y1="467.54" x2="65.60" y2="467.54" stroke="#245a9c" stroke-width="0.6"/>
<line x1="63.20" y1="460.84" x2="65.60" y2="460.84" stroke="#245a9c" stroke-width="0.6"/>
<line x1="79.80" y1="468.05" x2="79.80" y2="459.81" stroke="#245a9c" stroke-width="0.6"/>
<line x1="78.60" y1="468.05" x2="81.00" y2="468.05" stroke="#245a9c" stroke-width="0.6"/>
<line x1="78.60" y1="459.81" x2="81.00" y2="459.81" stroke="#245a9c" stroke-width="0.6"/>
<line x1="95.00" y1="466.50" x2="95.00" y2="457.75" stroke="#245a9c" stroke-width="0.6"/>
<line x1="93.80" y1="466.50" x2="96.20" y2="466.50" stroke="#245a9c" stroke-width="0.6"/>
<line x1="93.80" y1="457.75" x2="96.20" y2="457.75" stroke="#245a9c" stroke-width="0.6"/>
<path d="M62.80,464.44 L64.40,462.84 L66.00,464.44 L64.40,466.05 Z" fill="#245a9c"/>
<path d="M78.20,463.93 L79.80,462.33 L81.40,463.93 L79.80,465.53 Z" fill="#245a9c"/>
<path d="M93.40,462.38 L95.00,460.78 L96.60,462.38 L95.00,463.99 Z" fill="#245a9c"/>
<polyline points="64.40,460.84 79.80,468.05 95.00,465.99" fill="none" stroke="#ac1039" stroke-width="1.1" stroke-linejoin="round"/>
<line x1="64.40" y1="462.90" x2="64.40" y2="458.78" stroke="#ac1039" stroke-width="0.6"/>
<line x1="63.20" y1="462.90" x2="65.60" y2="462.90" stroke="#ac1039" stroke-width="0.6"/>
<line x1="63.20" y1="458.78" x2="65.60" y2="458.78" stroke="#ac1039" stroke-width="0.6"/>
<line x1="79.80" y1="474.75" x2="79.80" y2="462.38" stroke="#ac1039" stroke-width="0.6"/>
<line x1="78.60" y1="474.75" x2="81.00" y2="474.75" stroke="#ac1039" stroke-width="0.6"/>
<line x1="78.60" y1="462.38" x2="81.00" y2="462.38" stroke="#ac1039" stroke-width="0.6"/>
<line x1="95.00" y1="474.75" x2="95.00" y2="459.30" stroke="#ac1039" stroke-width="0.6"/>
<line x1="93.80" y1="474.75" x2="96.20" y2="474.75" stroke="#ac1039" stroke-width="0.6"/>
<line x1="93.80" y1="459.30" x2="96.20" y2="459.30" stroke="#ac1039" stroke-width="0.6"/>
<path d="M62.80,460.84 L64.40,459.24 L66.00,460.84 L64.40,462.44 Z" fill="#ac1039"/>
<path d="M78.20,468.05 L79.80,466.45 L81.40,468.05 L79.80,469.65 Z" fill="#ac1039"/>
<path d="M93.40,465.99 L95.00,464.39 L96.60,465.99 L95.00,467.59 Z" fill="#ac1039"/>
<polyline points="64.40,457.24 79.80,453.12 95.00,450.54" fill="none" stroke="#f5a42c" stroke-width="1.1" stroke-linejoin="round"/>
<line x1="64.40" y1="459.81" x2="64.40" y2="454.14" stroke="#f5a42c" stroke-width="0.6"/>
<line x1="63.20" y1="459.81" x2="65.60" y2="459.81" stroke="#f5a42c" stroke-width="0.6"/>
<line x1="63.20" y1="454.14" x2="65.60" y2="454.14" stroke="#f5a42c" stroke-width="0.6"/>
<line x1="79.80" y1="455.18" x2="79.80" y2="451.06" stroke="#f5a42c" stroke-width="0.6"/>
<line x1="78.60" y1="455.18" x2="81.00" y2="455.18" stroke="#f5a42c" stroke-width="0.6"/>
<line x1="78.60" y1="451.06" x2="81.00" y2="451.06" stroke="#f5a42c" stroke-width="0.6"/>
<line x1="95.00" y1="453.12" x2="95.00" y2="448.48" stroke="#f5a42c" stroke-width="0.6"/>
<line x1="93.80" y1="453.12" x2="96.20" y2="453.12" stroke="#f5a42c" stroke-width="0.6"/>
<line x1="93.80" y1="448.48" x2="96.20" y2="448.48" stroke="#f5a42c" stroke-width="0.6"/>
<path d="M62.80,457.24 L64.40,455.63 L66.00,457.24 L64.40,458.84 Z" fill="#f5a42c"/>
<path d="M78.20,453.12 L79.80,451.51 L81.40,453.12 L79.80,454.72 Z" fill="#f5a42c"/>
<path d="M93.40,450.54 L95.00,448.94 L96.60,450.54 L95.00,452.14 Z" fill="#f5a42c"/>
<polyline points="64.40,458.26 79.80,451.57 95.00,445.90" fill="none" stroke="#168549" stroke-width="1.1" stroke-linejoin="round"/>
<line x1="64.40" y1="459.30" x2="64.40" y2="456.72" stroke="#168549" stroke-width="0.6"/>
<line x1="63.20" y1="459.30" x2="65.60" y2="459.30" stroke="#168549" stroke-width="0.6"/>
<line x1="63.20" y1="456.72" x2="65.60" y2="456.72" stroke="#168549" stroke-width="0.6"/>
<line x1="79.80" y1="453.63" x2="79.80" y2="449.51" stroke="#168549" stroke-width="0.6"/>
<line x1="78.60" y1="453.63" x2="81.00" y2="453.63" stroke="#168549" stroke-width="0.6"/>
<line x1="78.60" y1="449.51" x2="81.00" y2="449.51" stroke="#168549" stroke-width="0.6"/>
<line x1="95.00" y1="449.00" x2="95.00" y2="443.85" stroke="#168549" stroke-width="0.6"/>
<line x1="93.80" y1="449.00" x2="96.20" y2="449.00" stroke="#168549" stroke-width="0.6"/>
<line x1="93.80" y1="443.85" x2="96.20" y2="443.85" stroke="#168549" stroke-width="0.6"/>
<path d="M62.80,458.26 L64.40,456.66 L66.00,458.26 L64.40,459.87 Z" fill="#168549"/>
<path d="M78.20,451.57 L79.80,449.97 L81.40,451.57 L79.80,453.17 Z" fill="#168549"/>
<path d="M93.40,445.90 L95.00,444.30 L96.60,445.90 L95.00,447.50 Z" fill="#168549"/>
<text transform="translate(74.40 507.00) scale(0.780 1)" font-size="8.0" fill="#333" text-anchor="middle" stroke="#333" stroke-width="0.1">Weeks after HSCT</text>
<text transform="translate(26.10 456.20) rotate(-90) scale(0.786 1)" font-size="8.4" fill="#333" text-anchor="middle" stroke="#333" stroke-width="0.1">Donor chimerism (%)</text>
<line x1="102.00" y1="435.60" x2="108.80" y2="435.60" stroke="#168549" stroke-width="0.9"/>
<circle cx="105.40" cy="435.60" r="1.30" fill="#168549"/>
<text transform="translate(112.80 438.00) scale(0.903 1)" font-size="7.2" fill="#333" stroke="#333" stroke-width="0.1">Young</text>
<line x1="102.00" y1="444.60" x2="108.80" y2="444.60" stroke="#ac1039" stroke-width="0.9"/>
<circle cx="105.40" cy="444.60" r="1.30" fill="#ac1039"/>
<text transform="translate(112.80 447.00) scale(0.928 1)" font-size="7.2" fill="#333" stroke="#333" stroke-width="0.1">Aged</text>
<line x1="102.00" y1="453.60" x2="108.80" y2="453.60" stroke="#f5a42c" stroke-width="0.9"/>
<circle cx="105.40" cy="453.60" r="1.30" fill="#f5a42c"/>
<text transform="translate(112.80 456.00) scale(0.895 1)" font-size="7.2" fill="#333" stroke="#333" stroke-width="0.1">Aged FUS<tspan font-size="4.90" dy="-2.74">low</tspan></text>
<line x1="102.00" y1="461.60" x2="108.80" y2="461.60" stroke="#245a9c" stroke-width="0.9"/>
<circle cx="105.40" cy="461.60" r="1.30" fill="#245a9c"/>
<text transform="translate(112.80 464.00) scale(0.909 1)" font-size="7.2" fill="#333" stroke="#333" stroke-width="0.1">Aged FUS<tspan font-size="4.90" dy="-2.74">high</tspan></text>
<path d="M152.60,434.70 L155.60,434.70 L155.60,444.40 L152.60,444.40" fill="none" stroke="#555" stroke-width="0.6"/>
<path d="M152.60,452.60 L155.60,452.60 L155.60,461.20 L152.60,461.20" fill="none" stroke="#555" stroke-width="0.6"/>
<path d="M159.40,434.70 L161.80,434.70 L161.80,461.20 L159.40,461.20" fill="none" stroke="#555" stroke-width="0.6"/>
<text transform="translate(158.60 444.00)" font-size="7.0" fill="#333" text-anchor="middle" stroke="#333" stroke-width="0.1">*</text>
<text transform="translate(158.60 460.30)" font-size="7.0" fill="#333" text-anchor="middle" stroke="#333" stroke-width="0.1">*</text>
<text transform="translate(164.80 450.80)" font-size="7.0" fill="#333" text-anchor="middle" stroke="#333" stroke-width="0.1">*</text>
<text transform="translate(208.70 423.30) scale(0.906 1)" font-size="8.4" fill="#2a2a2a" text-anchor="middle" stroke="#2a2a2a" stroke-width="0.1">B Cells</text>
<line x1="184.60" y1="429.40" x2="184.60" y2="483.95" stroke="#1a1a1a" stroke-width="0.9"/>
<line x1="181.60" y1="483.50" x2="184.60" y2="483.50" stroke="#1a1a1a" stroke-width="0.8"/>
<text transform="translate(178.70 485.70)" font-size="6.2" fill="#333" text-anchor="end" stroke="#333" stroke-width="0.1">0</text>
<line x1="181.60" y1="473.20" x2="184.60" y2="473.20" stroke="#1a1a1a" stroke-width="0.8"/>
<text transform="translate(178.70 475.40)" font-size="6.2" fill="#333" text-anchor="end" stroke="#333" stroke-width="0.1">20</text>
<line x1="181.60" y1="462.90" x2="184.60" y2="462.90" stroke="#1a1a1a" stroke-width="0.8"/>
<text transform="translate(178.70 465.10)" font-size="6.2" fill="#333" text-anchor="end" stroke="#333" stroke-width="0.1">40</text>
<line x1="181.60" y1="452.60" x2="184.60" y2="452.60" stroke="#1a1a1a" stroke-width="0.8"/>
<text transform="translate(178.70 454.80)" font-size="6.2" fill="#333" text-anchor="end" stroke="#333" stroke-width="0.1">60</text>
<line x1="181.60" y1="442.30" x2="184.60" y2="442.30" stroke="#1a1a1a" stroke-width="0.8"/>
<text transform="translate(178.70 444.50)" font-size="6.2" fill="#333" text-anchor="end" stroke="#333" stroke-width="0.1">80</text>
<line x1="181.60" y1="432.00" x2="184.60" y2="432.00" stroke="#1a1a1a" stroke-width="0.8"/>
<text transform="translate(178.70 434.20)" font-size="6.2" fill="#333" text-anchor="end" stroke="#333" stroke-width="0.1">100</text>
<line x1="184.15" y1="483.50" x2="235.80" y2="483.50" stroke="#1a1a1a" stroke-width="0.9"/>
<line x1="201.00" y1="483.50" x2="201.00" y2="486.30" stroke="#1a1a1a" stroke-width="0.8"/>
<text transform="translate(201.00 495.50)" font-size="6.3" fill="#333" text-anchor="middle" stroke="#333" stroke-width="0.1">4</text>
<line x1="216.00" y1="483.50" x2="216.00" y2="486.30" stroke="#1a1a1a" stroke-width="0.8"/>
<text transform="translate(216.00 495.50)" font-size="6.3" fill="#333" text-anchor="middle" stroke="#333" stroke-width="0.1">8</text>
<line x1="231.20" y1="483.50" x2="231.20" y2="486.30" stroke="#1a1a1a" stroke-width="0.8"/>
<text transform="translate(231.20 495.50)" font-size="6.3" fill="#333" text-anchor="middle" stroke="#333" stroke-width="0.1">12</text>
<polyline points="201.00,478.35 216.00,470.62 231.20,467.02" fill="none" stroke="#245a9c" stroke-width="1.1" stroke-linejoin="round"/>
<line x1="201.00" y1="480.41" x2="201.00" y2="476.29" stroke="#245a9c" stroke-width="0.6"/>
<line x1="199.80" y1="480.41" x2="202.20" y2="480.41" stroke="#245a9c" stroke-width="0.6"/>
<line x1="199.80" y1="476.29" x2="202.20" y2="476.29" stroke="#245a9c" stroke-width="0.6"/>
<line x1="216.00" y1="475.26" x2="216.00" y2="466.50" stroke="#245a9c" stroke-width="0.6"/>
<line x1="214.80" y1="475.26" x2="217.20" y2="475.26" stroke="#245a9c" stroke-width="0.6"/>
<line x1="214.80" y1="466.50" x2="217.20" y2="466.50" stroke="#245a9c" stroke-width="0.6"/>
<line x1="231.20" y1="471.14" x2="231.20" y2="462.38" stroke="#245a9c" stroke-width="0.6"/>
<line x1="230.00" y1="471.14" x2="232.40" y2="471.14" stroke="#245a9c" stroke-width="0.6"/>
<line x1="230.00" y1="462.38" x2="232.40" y2="462.38" stroke="#245a9c" stroke-width="0.6"/>
<path d="M199.40,478.35 L201.00,476.75 L202.60,478.35 L201.00,479.95 Z" fill="#245a9c"/>
<path d="M214.40,470.62 L216.00,469.02 L217.60,470.62 L216.00,472.23 Z" fill="#245a9c"/>
<path d="M229.60,467.02 L231.20,465.42 L232.80,467.02 L231.20,468.62 Z" fill="#245a9c"/>
<polyline points="201.00,472.17 216.00,470.62 231.20,472.69" fill="none" stroke="#ac1039" stroke-width="1.1" stroke-linejoin="round"/>
<line x1="201.00" y1="474.23" x2="201.00" y2="470.11" stroke="#ac1039" stroke-width="0.6"/>
<line x1="199.80" y1="474.23" x2="202.20" y2="474.23" stroke="#ac1039" stroke-width="0.6"/>
<line x1="199.80" y1="470.11" x2="202.20" y2="470.11" stroke="#ac1039" stroke-width="0.6"/>
<line x1="216.00" y1="477.32" x2="216.00" y2="463.42" stroke="#ac1039" stroke-width="0.6"/>
<line x1="214.80" y1="477.32" x2="217.20" y2="477.32" stroke="#ac1039" stroke-width="0.6"/>
<line x1="214.80" y1="463.42" x2="217.20" y2="463.42" stroke="#ac1039" stroke-width="0.6"/>
<line x1="231.20" y1="478.35" x2="231.20" y2="467.54" stroke="#ac1039" stroke-width="0.6"/>
<line x1="230.00" y1="478.35" x2="232.40" y2="478.35" stroke="#ac1039" stroke-width="0.6"/>
<line x1="230.00" y1="467.54" x2="232.40" y2="467.54" stroke="#ac1039" stroke-width="0.6"/>
<path d="M199.40,472.17 L201.00,470.57 L202.60,472.17 L201.00,473.77 Z" fill="#ac1039"/>
<path d="M214.40,470.62 L216.00,469.02 L217.60,470.62 L216.00,472.23 Z" fill="#ac1039"/>
<path d="M229.60,472.69 L231.20,471.08 L232.80,472.69 L231.20,474.29 Z" fill="#ac1039"/>
<polyline points="201.00,468.05 216.00,454.66 231.20,452.60" fill="none" stroke="#f5a42c" stroke-width="1.1" stroke-linejoin="round"/>
<line x1="201.00" y1="471.14" x2="201.00" y2="464.96" stroke="#f5a42c" stroke-width="0.6"/>
<line x1="199.80" y1="471.14" x2="202.20" y2="471.14" stroke="#f5a42c" stroke-width="0.6"/>
<line x1="199.80" y1="464.96" x2="202.20" y2="464.96" stroke="#f5a42c" stroke-width="0.6"/>
<line x1="216.00" y1="457.75" x2="216.00" y2="451.57" stroke="#f5a42c" stroke-width="0.6"/>
<line x1="214.80" y1="457.75" x2="217.20" y2="457.75" stroke="#f5a42c" stroke-width="0.6"/>
<line x1="214.80" y1="451.57" x2="217.20" y2="451.57" stroke="#f5a42c" stroke-width="0.6"/>
<line x1="231.20" y1="455.18" x2="231.20" y2="450.02" stroke="#f5a42c" stroke-width="0.6"/>
<line x1="230.00" y1="455.18" x2="232.40" y2="455.18" stroke="#f5a42c" stroke-width="0.6"/>
<line x1="230.00" y1="450.02" x2="232.40" y2="450.02" stroke="#f5a42c" stroke-width="0.6"/>
<path d="M199.40,468.05 L201.00,466.45 L202.60,468.05 L201.00,469.65 Z" fill="#f5a42c"/>
<path d="M214.40,454.66 L216.00,453.06 L217.60,454.66 L216.00,456.26 Z" fill="#f5a42c"/>
<path d="M229.60,452.60 L231.20,451.00 L232.80,452.60 L231.20,454.20 Z" fill="#f5a42c"/>
<polyline points="201.00,456.72 216.00,451.57 231.20,447.96" fill="none" stroke="#168549" stroke-width="1.1" stroke-linejoin="round"/>
<line x1="201.00" y1="459.30" x2="201.00" y2="454.14" stroke="#168549" stroke-width="0.6"/>
<line x1="199.80" y1="459.30" x2="202.20" y2="459.30" stroke="#168549" stroke-width="0.6"/>
<line x1="199.80" y1="454.14" x2="202.20" y2="454.14" stroke="#168549" stroke-width="0.6"/>
<line x1="216.00" y1="453.63" x2="216.00" y2="448.48" stroke="#168549" stroke-width="0.6"/>
<line x1="214.80" y1="453.63" x2="217.20" y2="453.63" stroke="#168549" stroke-width="0.6"/>
<line x1="214.80" y1="448.48" x2="217.20" y2="448.48" stroke="#168549" stroke-width="0.6"/>
<line x1="231.20" y1="451.06" x2="231.20" y2="444.88" stroke="#168549" stroke-width="0.6"/>
<line x1="230.00" y1="451.06" x2="232.40" y2="451.06" stroke="#168549" stroke-width="0.6"/>
<line x1="230.00" y1="444.88" x2="232.40" y2="444.88" stroke="#168549" stroke-width="0.6"/>
<path d="M199.40,456.72 L201.00,455.12 L202.60,456.72 L201.00,458.32 Z" fill="#168549"/>
<path d="M214.40,451.57 L216.00,449.97 L217.60,451.57 L216.00,453.17 Z" fill="#168549"/>
<path d="M229.60,447.96 L231.20,446.36 L232.80,447.96 L231.20,449.56 Z" fill="#168549"/>
<text transform="translate(275.60 423.30) scale(0.889 1)" font-size="8.4" fill="#2a2a2a" text-anchor="middle" stroke="#2a2a2a" stroke-width="0.1">T Cells</text>
<line x1="252.30" y1="429.40" x2="252.30" y2="483.95" stroke="#1a1a1a" stroke-width="0.9"/>
<line x1="249.30" y1="483.50" x2="252.30" y2="483.50" stroke="#1a1a1a" stroke-width="0.8"/>
<text transform="translate(246.40 485.70)" font-size="6.2" fill="#333" text-anchor="end" stroke="#333" stroke-width="0.1">0</text>
<line x1="249.30" y1="466.33" x2="252.30" y2="466.33" stroke="#1a1a1a" stroke-width="0.8"/>
<text transform="translate(246.40 468.53)" font-size="6.2" fill="#333" text-anchor="end" stroke="#333" stroke-width="0.1">20</text>
<line x1="249.30" y1="449.17" x2="252.30" y2="449.17" stroke="#1a1a1a" stroke-width="0.8"/>
<text transform="translate(246.40 451.37)" font-size="6.2" fill="#333" text-anchor="end" stroke="#333" stroke-width="0.1">40</text>
<line x1="249.30" y1="432.00" x2="252.30" y2="432.00" stroke="#1a1a1a" stroke-width="0.8"/>
<text transform="translate(246.40 434.20)" font-size="6.2" fill="#333" text-anchor="end" stroke="#333" stroke-width="0.1">60</text>
<line x1="251.85" y1="483.50" x2="302.50" y2="483.50" stroke="#1a1a1a" stroke-width="0.9"/>
<line x1="267.50" y1="483.50" x2="267.50" y2="486.30" stroke="#1a1a1a" stroke-width="0.8"/>
<text transform="translate(267.50 495.50)" font-size="6.3" fill="#333" text-anchor="middle" stroke="#333" stroke-width="0.1">4</text>
<line x1="283.00" y1="483.50" x2="283.00" y2="486.30" stroke="#1a1a1a" stroke-width="0.8"/>
<text transform="translate(283.00 495.50)" font-size="6.3" fill="#333" text-anchor="middle" stroke="#333" stroke-width="0.1">8</text>
<line x1="298.30" y1="483.50" x2="298.30" y2="486.30" stroke="#1a1a1a" stroke-width="0.8"/>
<text transform="translate(298.30 495.50)" font-size="6.3" fill="#333" text-anchor="middle" stroke="#333" stroke-width="0.1">12</text>
<polyline points="267.50,464.19 283.00,468.56 298.30,474.49" fill="none" stroke="#245a9c" stroke-width="1.1" stroke-linejoin="round"/>
<line x1="267.50" y1="469.77" x2="267.50" y2="458.61" stroke="#245a9c" stroke-width="0.6"/>
<line x1="266.30" y1="469.77" x2="268.70" y2="469.77" stroke="#245a9c" stroke-width="0.6"/>
<line x1="266.30" y1="458.61" x2="268.70" y2="458.61" stroke="#245a9c" stroke-width="0.6"/>
<line x1="283.00" y1="473.20" x2="283.00" y2="463.76" stroke="#245a9c" stroke-width="0.6"/>
<line x1="281.80" y1="473.20" x2="284.20" y2="473.20" stroke="#245a9c" stroke-width="0.6"/>
<line x1="281.80" y1="463.76" x2="284.20" y2="463.76" stroke="#245a9c" stroke-width="0.6"/>
<line x1="298.30" y1="477.49" x2="298.30" y2="471.48" stroke="#245a9c" stroke-width="0.6"/>
<line x1="297.10" y1="477.49" x2="299.50" y2="477.49" stroke="#245a9c" stroke-width="0.6"/>
<line x1="297.10" y1="471.48" x2="299.50" y2="471.48" stroke="#245a9c" stroke-width="0.6"/>
<path d="M265.90,464.19 L267.50,462.59 L269.10,464.19 L267.50,465.79 Z" fill="#245a9c"/>
<path d="M281.40,468.56 L283.00,466.96 L284.60,468.56 L283.00,470.17 Z" fill="#245a9c"/>
<path d="M296.70,474.49 L298.30,472.89 L299.90,474.49 L298.30,476.09 Z" fill="#245a9c"/>
<polyline points="267.50,465.65 283.00,473.63 298.30,479.64" fill="none" stroke="#ac1039" stroke-width="1.1" stroke-linejoin="round"/>
<line x1="267.50" y1="471.48" x2="267.50" y2="460.32" stroke="#ac1039" stroke-width="0.6"/>
<line x1="266.30" y1="471.48" x2="268.70" y2="471.48" stroke="#ac1039" stroke-width="0.6"/>
<line x1="266.30" y1="460.32" x2="268.70" y2="460.32" stroke="#ac1039" stroke-width="0.6"/>
<line x1="283.00" y1="477.49" x2="283.00" y2="469.77" stroke="#ac1039" stroke-width="0.6"/>
<line x1="281.80" y1="477.49" x2="284.20" y2="477.49" stroke="#ac1039" stroke-width="0.6"/>
<line x1="281.80" y1="469.77" x2="284.20" y2="469.77" stroke="#ac1039" stroke-width="0.6"/>
<line x1="298.30" y1="481.78" x2="298.30" y2="477.49" stroke="#ac1039" stroke-width="0.6"/>
<line x1="297.10" y1="481.78" x2="299.50" y2="481.78" stroke="#ac1039" stroke-width="0.6"/>
<line x1="297.10" y1="477.49" x2="299.50" y2="477.49" stroke="#ac1039" stroke-width="0.6"/>
<path d="M265.90,465.65 L267.50,464.05 L269.10,465.65 L267.50,467.25 Z" fill="#ac1039"/>
<path d="M281.40,473.63 L283.00,472.03 L284.60,473.63 L283.00,475.23 Z" fill="#ac1039"/>
<path d="M296.70,479.64 L298.30,478.04 L299.90,479.64 L298.30,481.24 Z" fill="#ac1039"/>
<polyline points="267.50,470.11 283.00,455.18 298.30,446.59" fill="none" stroke="#f5a42c" stroke-width="1.1" stroke-linejoin="round"/>
<line x1="267.50" y1="474.06" x2="267.50" y2="465.48" stroke="#f5a42c" stroke-width="0.6"/>
<line x1="266.30" y1="474.06" x2="268.70" y2="474.06" stroke="#f5a42c" stroke-width="0.6"/>
<line x1="266.30" y1="465.48" x2="268.70" y2="465.48" stroke="#f5a42c" stroke-width="0.6"/>
<line x1="283.00" y1="459.47" x2="283.00" y2="450.88" stroke="#f5a42c" stroke-width="0.6"/>
<line x1="281.80" y1="459.47" x2="284.20" y2="459.47" stroke="#f5a42c" stroke-width="0.6"/>
<line x1="281.80" y1="450.88" x2="284.20" y2="450.88" stroke="#f5a42c" stroke-width="0.6"/>
<line x1="298.30" y1="451.74" x2="298.30" y2="440.58" stroke="#f5a42c" stroke-width="0.6"/>
<line x1="297.10" y1="451.74" x2="299.50" y2="451.74" stroke="#f5a42c" stroke-width="0.6"/>
<line x1="297.10" y1="440.58" x2="299.50" y2="440.58" stroke="#f5a42c" stroke-width="0.6"/>
<path d="M265.90,470.11 L267.50,468.51 L269.10,470.11 L267.50,471.71 Z" fill="#f5a42c"/>
<path d="M281.40,455.18 L283.00,453.57 L284.60,455.18 L283.00,456.78 Z" fill="#f5a42c"/>
<path d="M296.70,446.59 L298.30,444.99 L299.90,446.59 L298.30,448.19 Z" fill="#f5a42c"/>
<polyline points="267.50,464.19 283.00,450.88 298.30,445.73" fill="none" stroke="#168549" stroke-width="1.1" stroke-linejoin="round"/>
<line x1="267.50" y1="468.05" x2="267.50" y2="460.32" stroke="#168549" stroke-width="0.6"/>
<line x1="266.30" y1="468.05" x2="268.70" y2="468.05" stroke="#168549" stroke-width="0.6"/>
<line x1="266.30" y1="460.32" x2="268.70" y2="460.32" stroke="#168549" stroke-width="0.6"/>
<line x1="283.00" y1="453.46" x2="283.00" y2="447.45" stroke="#168549" stroke-width="0.6"/>
<line x1="281.80" y1="453.46" x2="284.20" y2="453.46" stroke="#168549" stroke-width="0.6"/>
<line x1="281.80" y1="447.45" x2="284.20" y2="447.45" stroke="#168549" stroke-width="0.6"/>
<line x1="298.30" y1="449.17" x2="298.30" y2="442.30" stroke="#168549" stroke-width="0.6"/>
<line x1="297.10" y1="449.17" x2="299.50" y2="449.17" stroke="#168549" stroke-width="0.6"/>
<line x1="297.10" y1="442.30" x2="299.50" y2="442.30" stroke="#168549" stroke-width="0.6"/>
<path d="M265.90,464.19 L267.50,462.59 L269.10,464.19 L267.50,465.79 Z" fill="#168549"/>
<path d="M281.40,450.88 L283.00,449.28 L284.60,450.88 L283.00,452.48 Z" fill="#168549"/>
<path d="M296.70,445.73 L298.30,444.13 L299.90,445.73 L298.30,447.33 Z" fill="#168549"/>
<text transform="translate(352.60 423.30) scale(0.974 1)" font-size="8.4" fill="#2a2a2a" text-anchor="middle" stroke="#2a2a2a" stroke-width="0.1">Myeloid</text>
<line x1="328.60" y1="429.40" x2="328.60" y2="483.95" stroke="#1a1a1a" stroke-width="0.9"/>
<line x1="325.60" y1="483.50" x2="328.60" y2="483.50" stroke="#1a1a1a" stroke-width="0.8"/>
<text transform="translate(322.70 485.70)" font-size="6.2" fill="#333" text-anchor="end" stroke="#333" stroke-width="0.1">0</text>
<line x1="325.60" y1="466.33" x2="328.60" y2="466.33" stroke="#1a1a1a" stroke-width="0.8"/>
<text transform="translate(322.70 468.53)" font-size="6.2" fill="#333" text-anchor="end" stroke="#333" stroke-width="0.1">50</text>
<line x1="325.60" y1="449.17" x2="328.60" y2="449.17" stroke="#1a1a1a" stroke-width="0.8"/>
<text transform="translate(322.70 451.37)" font-size="6.2" fill="#333" text-anchor="end" stroke="#333" stroke-width="0.1">100</text>
<line x1="325.60" y1="432.00" x2="328.60" y2="432.00" stroke="#1a1a1a" stroke-width="0.8"/>
<text transform="translate(322.70 434.20)" font-size="6.2" fill="#333" text-anchor="end" stroke="#333" stroke-width="0.1">150</text>
<line x1="328.15" y1="483.50" x2="376.40" y2="483.50" stroke="#1a1a1a" stroke-width="0.9"/>
<line x1="343.20" y1="483.50" x2="343.20" y2="486.30" stroke="#1a1a1a" stroke-width="0.8"/>
<text transform="translate(343.20 495.50)" font-size="6.3" fill="#333" text-anchor="middle" stroke="#333" stroke-width="0.1">4</text>
<line x1="358.60" y1="483.50" x2="358.60" y2="486.30" stroke="#1a1a1a" stroke-width="0.8"/>
<text transform="translate(358.60 495.50)" font-size="6.3" fill="#333" text-anchor="middle" stroke="#333" stroke-width="0.1">8</text>
<line x1="373.00" y1="483.50" x2="373.00" y2="486.30" stroke="#1a1a1a" stroke-width="0.8"/>
<text transform="translate(373.00 495.50)" font-size="6.3" fill="#333" text-anchor="middle" stroke="#333" stroke-width="0.1">12</text>
<polyline points="343.20,468.39 358.60,458.09 373.00,460.50" fill="none" stroke="#245a9c" stroke-width="1.1" stroke-linejoin="round"/>
<line x1="343.20" y1="470.45" x2="343.20" y2="466.33" stroke="#245a9c" stroke-width="0.6"/>
<line x1="342.00" y1="470.45" x2="344.40" y2="470.45" stroke="#245a9c" stroke-width="0.6"/>
<line x1="342.00" y1="466.33" x2="344.40" y2="466.33" stroke="#245a9c" stroke-width="0.6"/>
<line x1="358.60" y1="460.84" x2="358.60" y2="455.35" stroke="#245a9c" stroke-width="0.6"/>
<line x1="357.40" y1="460.84" x2="359.80" y2="460.84" stroke="#245a9c" stroke-width="0.6"/>
<line x1="357.40" y1="455.35" x2="359.80" y2="455.35" stroke="#245a9c" stroke-width="0.6"/>
<line x1="373.00" y1="463.59" x2="373.00" y2="457.41" stroke="#245a9c" stroke-width="0.6"/>
<line x1="371.80" y1="463.59" x2="374.20" y2="463.59" stroke="#245a9c" stroke-width="0.6"/>
<line x1="371.80" y1="457.41" x2="374.20" y2="457.41" stroke="#245a9c" stroke-width="0.6"/>
<path d="M341.60,468.39 L343.20,466.79 L344.80,468.39 L343.20,469.99 Z" fill="#245a9c"/>
<path d="M357.00,458.09 L358.60,456.49 L360.20,458.09 L358.60,459.69 Z" fill="#245a9c"/>
<path d="M371.40,460.50 L373.00,458.90 L374.60,460.50 L373.00,462.10 Z" fill="#245a9c"/>
<polyline points="343.20,467.02 358.60,464.27 373.00,467.02" fill="none" stroke="#ac1039" stroke-width="1.1" stroke-linejoin="round"/>
<line x1="343.20" y1="469.08" x2="343.20" y2="464.96" stroke="#ac1039" stroke-width="0.6"/>
<line x1="342.00" y1="469.08" x2="344.40" y2="469.08" stroke="#ac1039" stroke-width="0.6"/>
<line x1="342.00" y1="464.96" x2="344.40" y2="464.96" stroke="#ac1039" stroke-width="0.6"/>
<line x1="358.60" y1="468.39" x2="358.60" y2="460.15" stroke="#ac1039" stroke-width="0.6"/>
<line x1="357.40" y1="468.39" x2="359.80" y2="468.39" stroke="#ac1039" stroke-width="0.6"/>
<line x1="357.40" y1="460.15" x2="359.80" y2="460.15" stroke="#ac1039" stroke-width="0.6"/>
<line x1="373.00" y1="475.26" x2="373.00" y2="459.47" stroke="#ac1039" stroke-width="0.6"/>
<line x1="371.80" y1="475.26" x2="374.20" y2="475.26" stroke="#ac1039" stroke-width="0.6"/>
<line x1="371.80" y1="459.47" x2="374.20" y2="459.47" stroke="#ac1039" stroke-width="0.6"/>
<path d="M341.60,467.02 L343.20,465.42 L344.80,467.02 L343.20,468.62 Z" fill="#ac1039"/>
<path d="M357.00,464.27 L358.60,462.67 L360.20,464.27 L358.60,465.87 Z" fill="#ac1039"/>
<path d="M371.40,467.02 L373.00,465.42 L374.60,467.02 L373.00,468.62 Z" fill="#ac1039"/>
<polyline points="343.20,462.90 358.60,455.18 373.00,455.18" fill="none" stroke="#f5a42c" stroke-width="1.1" stroke-linejoin="round"/>
<line x1="343.20" y1="464.62" x2="343.20" y2="461.18" stroke="#f5a42c" stroke-width="0.6"/>
<line x1="342.00" y1="464.62" x2="344.40" y2="464.62" stroke="#f5a42c" stroke-width="0.6"/>
<line x1="342.00" y1="461.18" x2="344.40" y2="461.18" stroke="#f5a42c" stroke-width="0.6"/>
<line x1="358.60" y1="456.72" x2="358.60" y2="453.63" stroke="#f5a42c" stroke-width="0.6"/>
<line x1="357.40" y1="456.72" x2="359.80" y2="456.72" stroke="#f5a42c" stroke-width="0.6"/>
<line x1="357.40" y1="453.63" x2="359.80" y2="453.63" stroke="#f5a42c" stroke-width="0.6"/>
<line x1="373.00" y1="457.06" x2="373.00" y2="453.29" stroke="#f5a42c" stroke-width="0.6"/>
<line x1="371.80" y1="457.06" x2="374.20" y2="457.06" stroke="#f5a42c" stroke-width="0.6"/>
<line x1="371.80" y1="453.29" x2="374.20" y2="453.29" stroke="#f5a42c" stroke-width="0.6"/>
<path d="M341.60,462.90 L343.20,461.30 L344.80,462.90 L343.20,464.50 Z" fill="#f5a42c"/>
<path d="M357.00,455.18 L358.60,453.57 L360.20,455.18 L358.60,456.78 Z" fill="#f5a42c"/>
<path d="M371.40,455.18 L373.00,453.57 L374.60,455.18 L373.00,456.78 Z" fill="#f5a42c"/>
<polyline points="343.20,467.02 358.60,455.69 373.00,453.63" fill="none" stroke="#168549" stroke-width="1.1" stroke-linejoin="round"/>
<line x1="343.20" y1="468.39" x2="343.20" y2="465.65" stroke="#168549" stroke-width="0.6"/>
<line x1="342.00" y1="468.39" x2="344.40" y2="468.39" stroke="#168549" stroke-width="0.6"/>
<line x1="342.00" y1="465.65" x2="344.40" y2="465.65" stroke="#168549" stroke-width="0.6"/>
<line x1="358.60" y1="457.41" x2="358.60" y2="453.97" stroke="#168549" stroke-width="0.6"/>
<line x1="357.40" y1="457.41" x2="359.80" y2="457.41" stroke="#168549" stroke-width="0.6"/>
<line x1="357.40" y1="453.97" x2="359.80" y2="453.97" stroke="#168549" stroke-width="0.6"/>
<line x1="373.00" y1="455.35" x2="373.00" y2="451.91" stroke="#168549" stroke-width="0.6"/>
<line x1="371.80" y1="455.35" x2="374.20" y2="455.35" stroke="#168549" stroke-width="0.6"/>
<line x1="371.80" y1="451.91" x2="374.20" y2="451.91" stroke="#168549" stroke-width="0.6"/>
<path d="M341.60,467.02 L343.20,465.42 L344.80,467.02 L343.20,468.62 Z" fill="#168549"/>
<path d="M357.00,455.69 L358.60,454.09 L360.20,455.69 L358.60,457.29 Z" fill="#168549"/>
<path d="M371.40,453.63 L373.00,452.03 L374.60,453.63 L373.00,455.23 Z" fill="#168549"/>
<text transform="translate(237.60 256.00) scale(0.900 1)" font-size="11.2" fill="#111" font-weight="bold" stroke="#111" stroke-width="0.3">H</text>
<text transform="translate(333.00 258.80) scale(0.978 1)" font-size="8.4" fill="#2a2a2a" text-anchor="middle" stroke="#2a2a2a" stroke-width="0.1">Lineage Distribution</text>
<text transform="translate(251.70 300.80) rotate(-90) scale(0.707 1)" font-size="9.0" fill="#333" text-anchor="middle" stroke="#333" stroke-width="0.1">Percentage (%)</text>
<rect x="276.80" y="326.29" width="5.60" height="8.91" fill="#bfd8ca"/>
<line x1="279.60" y1="329.26" x2="279.60" y2="323.98" stroke="#0d6443" stroke-width="0.5"/>
<line x1="278.60" y1="323.98" x2="280.60" y2="323.98" stroke="#0d6443" stroke-width="0.5"/>
<circle cx="278.78" cy="325.96" r="1.30" fill="#0d6443"/>
<circle cx="279.81" cy="327.94" r="1.30" fill="#0d6443"/>
<circle cx="280.05" cy="329.92" r="1.30" fill="#0d6443"/>
<circle cx="279.01" cy="327.28" r="1.30" fill="#0d6443"/>
<circle cx="280.89" cy="331.90" r="1.30" fill="#0d6443"/>
<circle cx="279.25" cy="328.60" r="1.30" fill="#0d6443"/>
<rect x="285.50" y="330.38" width="5.60" height="4.82" fill="#bfd8ca"/>
<line x1="288.30" y1="332.56" x2="288.30" y2="328.60" stroke="#0d6443" stroke-width="0.5"/>
<line x1="287.30" y1="328.60" x2="289.30" y2="328.60" stroke="#0d6443" stroke-width="0.5"/>
<circle cx="289.64" cy="333.88" r="1.30" fill="#0d6443"/>
<circle cx="287.47" cy="331.24" r="1.30" fill="#0d6443"/>
<circle cx="286.98" cy="329.92" r="1.30" fill="#0d6443"/>
<circle cx="287.73" cy="332.56" r="1.30" fill="#0d6443"/>
<rect x="294.10" y="326.29" width="5.60" height="8.91" fill="#bfd8ca"/>
<line x1="296.90" y1="329.26" x2="296.90" y2="323.32" stroke="#0d6443" stroke-width="0.5"/>
<line x1="295.90" y1="323.32" x2="297.90" y2="323.32" stroke="#0d6443" stroke-width="0.5"/>
<circle cx="298.35" cy="320.02" r="1.30" fill="#0d6443"/>
<circle cx="297.75" cy="324.64" r="1.30" fill="#0d6443"/>
<circle cx="295.36" cy="327.28" r="1.30" fill="#0d6443"/>
<circle cx="297.40" cy="328.60" r="1.30" fill="#0d6443"/>
<circle cx="296.00" cy="329.92" r="1.30" fill="#0d6443"/>
<circle cx="297.70" cy="326.62" r="1.30" fill="#0d6443"/>
<rect x="302.70" y="328.93" width="5.60" height="6.27" fill="#bfd8ca"/>
<line x1="305.50" y1="331.24" x2="305.50" y2="326.62" stroke="#0d6443" stroke-width="0.5"/>
<line x1="304.50" y1="326.62" x2="306.50" y2="326.62" stroke="#0d6443" stroke-width="0.5"/>
<circle cx="305.77" cy="328.60" r="1.30" fill="#0d6443"/>
<circle cx="306.38" cy="330.58" r="1.30" fill="#0d6443"/>
<circle cx="304.58" cy="332.56" r="1.30" fill="#0d6443"/>
<circle cx="303.98" cy="329.26" r="1.30" fill="#0d6443"/>
<circle cx="304.83" cy="327.94" r="1.30" fill="#0d6443"/>
<rect x="317.20" y="301.80" width="5.60" height="33.40" fill="#eec190"/>
<line x1="320.00" y1="307.48" x2="320.00" y2="295.60" stroke="#d07c1c" stroke-width="0.5"/>
<line x1="319.00" y1="295.60" x2="321.00" y2="295.60" stroke="#d07c1c" stroke-width="0.5"/>
<circle cx="320.21" cy="291.90" r="1.30" fill="#d07c1c"/>
<circle cx="320.37" cy="293.09" r="1.30" fill="#d07c1c"/>
<circle cx="318.91" cy="296.00" r="1.30" fill="#d07c1c"/>
<circle cx="319.60" cy="302.99" r="1.30" fill="#d07c1c"/>
<circle cx="319.77" cy="322.20" r="1.30" fill="#d07c1c"/>
<rect x="325.60" y="316.26" width="5.60" height="18.94" fill="#eec190"/>
<line x1="328.40" y1="322.00" x2="328.40" y2="308.14" stroke="#d07c1c" stroke-width="0.5"/>
<line x1="327.40" y1="308.14" x2="329.40" y2="308.14" stroke="#d07c1c" stroke-width="0.5"/>
<circle cx="326.86" cy="294.94" r="1.30" fill="#d07c1c"/>
<circle cx="329.17" cy="314.74" r="1.30" fill="#d07c1c"/>
<circle cx="329.90" cy="325.63" r="1.30" fill="#d07c1c"/>
<circle cx="327.34" cy="330.32" r="1.30" fill="#d07c1c"/>
<rect x="334.20" y="297.65" width="5.60" height="37.55" fill="#eec190"/>
<line x1="337.00" y1="302.20" x2="337.00" y2="293.62" stroke="#d07c1c" stroke-width="0.5"/>
<line x1="336.00" y1="293.62" x2="338.00" y2="293.62" stroke="#d07c1c" stroke-width="0.5"/>
<circle cx="336.42" cy="287.88" r="1.30" fill="#d07c1c"/>
<circle cx="338.26" cy="295.40" r="1.30" fill="#d07c1c"/>
<circle cx="338.41" cy="298.24" r="1.30" fill="#d07c1c"/>
<circle cx="337.35" cy="298.90" r="1.30" fill="#d07c1c"/>
<circle cx="337.96" cy="301.80" r="1.30" fill="#d07c1c"/>
<circle cx="337.02" cy="301.54" r="1.30" fill="#d07c1c"/>
<circle cx="337.82" cy="323.32" r="1.30" fill="#d07c1c"/>
<rect x="342.90" y="316.26" width="5.60" height="18.94" fill="#eec190"/>
<line x1="345.70" y1="320.68" x2="345.70" y2="311.44" stroke="#d07c1c" stroke-width="0.5"/>
<line x1="344.70" y1="311.44" x2="346.70" y2="311.44" stroke="#d07c1c" stroke-width="0.5"/>
<circle cx="345.01" cy="305.90" r="1.30" fill="#d07c1c"/>
<circle cx="346.85" cy="311.70" r="1.30" fill="#d07c1c"/>
<circle cx="345.16" cy="312.89" r="1.30" fill="#d07c1c"/>
<circle cx="346.17" cy="321.01" r="1.30" fill="#d07c1c"/>
<circle cx="346.76" cy="323.32" r="1.30" fill="#d07c1c"/>
<rect x="357.30" y="312.89" width="5.60" height="22.31" fill="#e4e4e4"/>
<line x1="360.10" y1="316.72" x2="360.10" y2="308.80" stroke="#c6c6c6" stroke-width="0.5"/>
<line x1="359.10" y1="308.80" x2="361.10" y2="308.80" stroke="#c6c6c6" stroke-width="0.5"/>
<circle cx="358.84" cy="289.79" r="1.30" fill="#c6c6c6"/>
<circle cx="361.56" cy="308.14" r="1.30" fill="#c6c6c6"/>
<circle cx="358.83" cy="314.08" r="1.30" fill="#c6c6c6"/>
<circle cx="359.37" cy="316.72" r="1.30" fill="#c6c6c6"/>
<circle cx="360.32" cy="318.70" r="1.30" fill="#c6c6c6"/>
<circle cx="361.14" cy="320.68" r="1.30" fill="#c6c6c6"/>
<rect x="366.00" y="293.95" width="5.60" height="41.25" fill="#e4e4e4"/>
<line x1="368.80" y1="317.38" x2="368.80" y2="276.46" stroke="#c6c6c6" stroke-width="0.5"/>
<line x1="367.80" y1="276.46" x2="369.80" y2="276.46" stroke="#c6c6c6" stroke-width="0.5"/>
<circle cx="367.21" cy="276.66" r="1.30" fill="#c6c6c6"/>
<circle cx="369.71" cy="282.40" r="1.30" fill="#c6c6c6"/>
<circle cx="367.70" cy="294.94" r="1.30" fill="#c6c6c6"/>
<circle cx="367.65" cy="317.38" r="1.30" fill="#c6c6c6"/>
<rect x="374.50" y="314.48" width="5.60" height="20.72" fill="#e4e4e4"/>
<line x1="377.30" y1="318.04" x2="377.30" y2="310.78" stroke="#c6c6c6" stroke-width="0.5"/>
<line x1="376.30" y1="310.78" x2="378.30" y2="310.78" stroke="#c6c6c6" stroke-width="0.5"/>
<circle cx="377.53" cy="289.79" r="1.30" fill="#c6c6c6"/>
<circle cx="376.86" cy="310.78" r="1.30" fill="#c6c6c6"/>
<circle cx="377.38" cy="313.42" r="1.30" fill="#c6c6c6"/>
<circle cx="376.99" cy="315.40" r="1.30" fill="#c6c6c6"/>
<circle cx="378.43" cy="318.70" r="1.30" fill="#c6c6c6"/>
<circle cx="378.25" cy="322.00" r="1.30" fill="#c6c6c6"/>
<rect x="383.40" y="295.60" width="5.60" height="39.60" fill="#e4e4e4"/>
<line x1="386.20" y1="300.88" x2="386.20" y2="290.32" stroke="#c6c6c6" stroke-width="0.5"/>
<line x1="385.20" y1="290.32" x2="387.20" y2="290.32" stroke="#c6c6c6" stroke-width="0.5"/>
<circle cx="385.37" cy="285.70" r="1.30" fill="#c6c6c6"/>
<circle cx="385.41" cy="290.65" r="1.30" fill="#c6c6c6"/>
<circle cx="384.87" cy="290.65" r="1.30" fill="#c6c6c6"/>
<circle cx="386.84" cy="306.29" r="1.30" fill="#c6c6c6"/>
<line x1="274.30" y1="267.40" x2="274.30" y2="335.65" stroke="#1a1a1a" stroke-width="0.9"/>
<line x1="271.70" y1="335.20" x2="274.30" y2="335.20" stroke="#1a1a1a" stroke-width="0.8"/>
<text transform="translate(270.10 337.40)" font-size="6.3" fill="#333" text-anchor="end" stroke="#333" stroke-width="0.1">0</text>
<line x1="271.70" y1="322.00" x2="274.30" y2="322.00" stroke="#1a1a1a" stroke-width="0.8"/>
<text transform="translate(270.10 324.20)" font-size="6.3" fill="#333" text-anchor="end" stroke="#333" stroke-width="0.1">20</text>
<line x1="271.70" y1="308.80" x2="274.30" y2="308.80" stroke="#1a1a1a" stroke-width="0.8"/>
<text transform="translate(270.10 311.00)" font-size="6.3" fill="#333" text-anchor="end" stroke="#333" stroke-width="0.1">40</text>
<line x1="271.70" y1="295.60" x2="274.30" y2="295.60" stroke="#1a1a1a" stroke-width="0.8"/>
<text transform="translate(270.10 297.80)" font-size="6.3" fill="#333" text-anchor="end" stroke="#333" stroke-width="0.1">60</text>
<line x1="271.70" y1="282.40" x2="274.30" y2="282.40" stroke="#1a1a1a" stroke-width="0.8"/>
<text transform="translate(270.10 284.60)" font-size="6.3" fill="#333" text-anchor="end" stroke="#333" stroke-width="0.1">80</text>
<line x1="271.70" y1="269.20" x2="274.30" y2="269.20" stroke="#1a1a1a" stroke-width="0.8"/>
<text transform="translate(270.10 271.40)" font-size="6.3" fill="#333" text-anchor="end" stroke="#333" stroke-width="0.1">100</text>
<line x1="273.85" y1="335.20" x2="391.10" y2="335.20" stroke="#1a1a1a" stroke-width="0.9"/>
<line x1="279.60" y1="335.20" x2="279.60" y2="337.20" stroke="#1a1a1a" stroke-width="0.7"/>
<text transform="translate(281.30 342.00) rotate(-90) scale(1.078 1)" font-size="5.8" fill="#333" text-anchor="end" stroke="#333" stroke-width="0.1">Young</text>
<line x1="288.30" y1="335.20" x2="288.30" y2="337.20" stroke="#1a1a1a" stroke-width="0.7"/>
<text transform="translate(290.00 342.00) rotate(-90) scale(1.115 1)" font-size="5.8" fill="#333" text-anchor="end" stroke="#333" stroke-width="0.1">Aged</text>
<line x1="296.90" y1="335.20" x2="296.90" y2="337.20" stroke="#1a1a1a" stroke-width="0.7"/>
<text transform="translate(298.60 342.00) rotate(-90) scale(1.083 1)" font-size="5.8" fill="#333" text-anchor="end" stroke="#333" stroke-width="0.1">Aged FUS<tspan font-size="3.94" dy="-2.20">low</tspan></text>
<line x1="305.50" y1="335.20" x2="305.50" y2="337.20" stroke="#1a1a1a" stroke-width="0.7"/>
<text transform="translate(307.20 342.00) rotate(-90) scale(1.105 1)" font-size="5.8" fill="#333" text-anchor="end" stroke="#333" stroke-width="0.1">Aged FUS<tspan font-size="3.94" dy="-2.20">high</tspan></text>
<line x1="320.00" y1="335.20" x2="320.00" y2="337.20" stroke="#1a1a1a" stroke-width="0.7"/>
<text transform="translate(321.70 342.00) rotate(-90) scale(1.078 1)" font-size="5.8" fill="#333" text-anchor="end" stroke="#333" stroke-width="0.1">Young</text>
<line x1="328.40" y1="335.20" x2="328.40" y2="337.20" stroke="#1a1a1a" stroke-width="0.7"/>
<text transform="translate(330.10 342.00) rotate(-90) scale(1.115 1)" font-size="5.8" fill="#333" text-anchor="end" stroke="#333" stroke-width="0.1">Aged</text>
<line x1="337.00" y1="335.20" x2="337.00" y2="337.20" stroke="#1a1a1a" stroke-width="0.7"/>
<text transform="translate(338.70 342.00) rotate(-90) scale(1.083 1)" font-size="5.8" fill="#333" text-anchor="end" stroke="#333" stroke-width="0.1">Aged FUS<tspan font-size="3.94" dy="-2.20">low</tspan></text>
<line x1="345.70" y1="335.20" x2="345.70" y2="337.20" stroke="#1a1a1a" stroke-width="0.7"/>
<text transform="translate(347.40 342.00) rotate(-90) scale(1.105 1)" font-size="5.8" fill="#333" text-anchor="end" stroke="#333" stroke-width="0.1">Aged FUS<tspan font-size="3.94" dy="-2.20">high</tspan></text>
<line x1="360.10" y1="335.20" x2="360.10" y2="337.20" stroke="#1a1a1a" stroke-width="0.7"/>
<text transform="translate(361.80 342.00) rotate(-90) scale(1.078 1)" font-size="5.8" fill="#333" text-anchor="end" stroke="#333" stroke-width="0.1">Young</text>
<line x1="368.80" y1="335.20" x2="368.80" y2="337.20" stroke="#1a1a1a" stroke-width="0.7"/>
<text transform="translate(370.50 342.00) rotate(-90) scale(1.115 1)" font-size="5.8" fill="#333" text-anchor="end" stroke="#333" stroke-width="0.1">Aged</text>
<line x1="377.30" y1="335.20" x2="377.30" y2="337.20" stroke="#1a1a1a" stroke-width="0.7"/>
<text transform="translate(379.00 342.00) rotate(-90) scale(1.083 1)" font-size="5.8" fill="#333" text-anchor="end" stroke="#333" stroke-width="0.1">Aged FUS<tspan font-size="3.94" dy="-2.20">low</tspan></text>
<line x1="386.20" y1="335.20" x2="386.20" y2="337.20" stroke="#1a1a1a" stroke-width="0.7"/>
<text transform="translate(387.90 342.00) rotate(-90) scale(1.105 1)" font-size="5.8" fill="#333" text-anchor="end" stroke="#333" stroke-width="0.1">Aged FUS<tspan font-size="3.94" dy="-2.20">high</tspan></text>
<path d="M279.60,312.80 L279.60,311.20 L305.50,311.20 L305.50,312.80" fill="none" stroke="#555" stroke-width="0.55"/>
<text transform="translate(293.60 308.90) scale(0.894 1)" font-size="7.0" fill="#333" text-anchor="middle" stroke="#333" stroke-width="0.1"><tspan font-style="italic">P</tspan> = .07</text>
<path d="M288.30,318.20 L288.30,316.60 L305.50,316.60 L305.50,318.20" fill="none" stroke="#555" stroke-width="0.55"/>
<line x1="296.90" y1="316.60" x2="296.90" y2="318.20" stroke="#555" stroke-width="0.55"/>
<text transform="translate(292.60 319.20)" font-size="7.0" fill="#333" text-anchor="middle" stroke="#333" stroke-width="0.1">*</text>
<text transform="translate(301.20 319.20)" font-size="7.0" fill="#333" text-anchor="middle" stroke="#333" stroke-width="0.1">*</text>
<path d="M279.60,324.00 L279.60,322.40 L288.30,322.40 L288.30,324.00" fill="none" stroke="#c0392b" stroke-width="0.55"/>
<text transform="translate(284.00 324.80)" font-size="7.0" fill="#c0392b" text-anchor="middle" stroke="#c0392b" stroke-width="0.1">*</text>
<path d="M320.00,275.20 L320.00,273.60 L345.70,273.60 L345.70,275.20" fill="none" stroke="#555" stroke-width="0.55"/>
<text transform="translate(332.80 274.60)" font-size="7.0" fill="#333" text-anchor="middle" stroke="#333" stroke-width="0.1">*</text>
<path d="M320.00,283.60 L320.00,282.00 L337.00,282.00 L337.00,283.60" fill="none" stroke="#555" stroke-width="0.55"/>
<text transform="translate(327.40 281.20) scale(0.894 1)" font-size="7.0" fill="#333" text-anchor="middle" stroke="#333" stroke-width="0.1"><tspan font-style="italic">P</tspan> = .09</text>
<path d="M337.00,285.60 L337.00,284.00 L345.70,284.00 L345.70,285.60" fill="none" stroke="#555" stroke-width="0.55"/>
<text transform="translate(341.40 285.60)" font-size="7.0" fill="#333" text-anchor="middle" stroke="#333" stroke-width="0.1">*</text>
<path d="M360.10,268.10 L360.10,266.50 L386.20,266.50 L386.20,268.10" fill="none" stroke="#555" stroke-width="0.55"/>
<text transform="translate(373.00 266.90)" font-size="7.0" fill="#333" text-anchor="middle" stroke="#333" stroke-width="0.1">*</text>
<path d="M368.80,273.50 L368.80,271.90 L386.20,271.90 L386.20,273.50" fill="none" stroke="#555" stroke-width="0.55"/>
<line x1="377.30" y1="271.90" x2="377.30" y2="273.50" stroke="#555" stroke-width="0.55"/>
<text transform="translate(373.00 273.80)" font-size="7.0" fill="#333" text-anchor="middle" stroke="#333" stroke-width="0.1">*</text>
<text transform="translate(381.40 273.80)" font-size="7.0" fill="#333" text-anchor="middle" stroke="#333" stroke-width="0.1">**</text>
<circle cx="399.20" cy="274.30" r="1.20" fill="#0d6443"/>
<text transform="translate(402.30 276.70) scale(0.881 1)" font-size="7.0" fill="#333" stroke="#333" stroke-width="0.1">T cells</text>
<circle cx="399.20" cy="282.70" r="1.20" fill="#d07c1c"/>
<text transform="translate(402.30 285.10) scale(0.859 1)" font-size="7.0" fill="#333" stroke="#333" stroke-width="0.1">B cells</text>
<circle cx="399.20" cy="290.80" r="1.20" fill="#c4c4c4"/>
<text transform="translate(402.30 293.20) scale(0.958 1)" font-size="7.0" fill="#333" stroke="#333" stroke-width="0.1">Myeloid</text>
<rect x="0" y="0" width="520" height="1" fill="#6a6a6a"/>
<rect x="0" y="0" width="1" height="516" fill="#5a5a5a"/>
<rect x="518" y="0" width="1" height="516" fill="#c4c4c4"/>
<rect x="519" y="0" width="1" height="516" fill="#3a3a3a"/>
<rect x="0" y="515" width="520" height="1" fill="#3a3a3a"/>
<rect x="0" y="514" width="519" height="1" fill="#d8d8d8"/>
</svg></body></html>
